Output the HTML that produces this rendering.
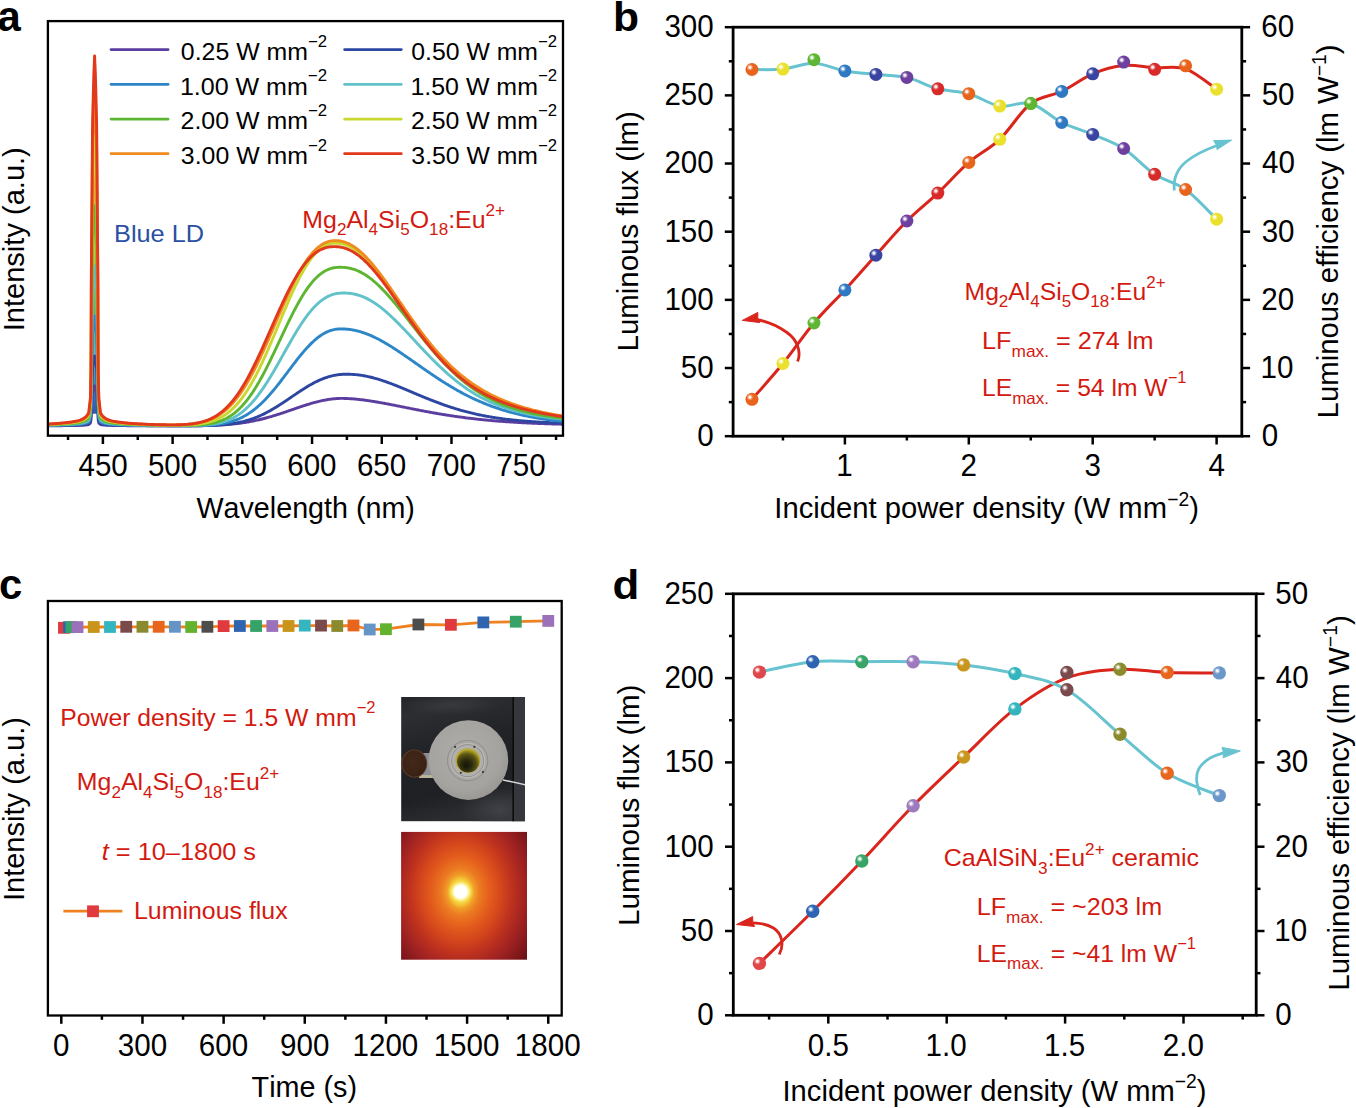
<!DOCTYPE html>
<html><head><meta charset="utf-8"><style>
html,body{margin:0;padding:0;background:#fff;}
svg{display:block;}
text{font-family:"Liberation Sans", sans-serif;font-kerning:none;}
</style></head><body>
<svg width="1356" height="1108" viewBox="0 0 1356 1108">
<rect width="1356" height="1108" fill="#fff"/>
<defs><linearGradient id="ldfill" gradientUnits="userSpaceOnUse" x1="0" y1="60" x2="0" y2="418"><stop offset="0" stop-color="#e84a1e"/><stop offset="0.3" stop-color="#eca030"/><stop offset="0.55" stop-color="#b8cc38"/><stop offset="0.7" stop-color="#64b83e"/><stop offset="0.82" stop-color="#58b8c8"/><stop offset="0.92" stop-color="#3080c8"/><stop offset="1" stop-color="#4048a8"/></linearGradient>
<radialGradient id="hl"><stop offset="0" stop-color="#fff" stop-opacity="1"/><stop offset="0.28" stop-color="#fff" stop-opacity="0.92"/><stop offset="0.6" stop-color="#fff" stop-opacity="0.4"/><stop offset="1" stop-color="#fff" stop-opacity="0"/></radialGradient>
<radialGradient id="glow" gradientUnits="userSpaceOnUse" cx="460.7" cy="891.7" r="90" fx="460.7" fy="891.7" gradientTransform="translate(460.7 891.7) scale(1 1.22) translate(-460.7 -891.7)">
<stop offset="0" stop-color="#ffffff"/><stop offset="0.065" stop-color="#ffffff"/><stop offset="0.085" stop-color="#f8ec90"/>
<stop offset="0.11" stop-color="#f4d23a"/><stop offset="0.15" stop-color="#f0a028"/><stop offset="0.21" stop-color="#ec7c22"/>
<stop offset="0.32" stop-color="#e45e1c"/><stop offset="0.45" stop-color="#d4461c"/><stop offset="0.57" stop-color="#be321e"/>
<stop offset="0.7" stop-color="#a42422"/><stop offset="0.85" stop-color="#82181c"/><stop offset="1" stop-color="#5e0e14"/></radialGradient>
<radialGradient id="core"><stop offset="0" stop-color="#fff"/><stop offset="0.45" stop-color="#fff"/><stop offset="0.6" stop-color="#fbf2a0"/><stop offset="0.75" stop-color="#f6dc48" stop-opacity="0.9"/><stop offset="1" stop-color="#f2b030" stop-opacity="0"/></radialGradient>
<linearGradient id="bgp" x1="0" y1="0" x2="0.25" y2="1"><stop offset="0" stop-color="#222428"/><stop offset="0.15" stop-color="#2c2e32"/><stop offset="0.45" stop-color="#212327"/><stop offset="0.8" stop-color="#1e2024"/><stop offset="1" stop-color="#2a2c30"/></linearGradient>
<radialGradient id="disc" cx="0.45" cy="0.42" r="0.65"><stop offset="0" stop-color="#afadaa"/><stop offset="0.7" stop-color="#a5a3a0"/><stop offset="1" stop-color="#959390"/></radialGradient>
<radialGradient id="lens" cx="0.45" cy="0.62" r="0.6" fx="0.4" fy="0.7"><stop offset="0" stop-color="#141408"/><stop offset="0.4" stop-color="#2c2c0e"/><stop offset="0.75" stop-color="#5a5414"/><stop offset="1" stop-color="#a49a26"/></radialGradient>
<radialGradient id="knob" cx="0.45" cy="0.45" r="0.6"><stop offset="0" stop-color="#45291a"/><stop offset="0.8" stop-color="#3a2216"/><stop offset="1" stop-color="#24160e"/></radialGradient>
<radialGradient id="brpatch" cx="0.5" cy="0.5" r="0.5"><stop offset="0" stop-color="#44464b" stop-opacity="0.8"/><stop offset="1" stop-color="#44464b" stop-opacity="0"/></radialGradient>
<clipPath id="clipp1"><rect x="401.1" y="697" width="123.9" height="124.4"/></clipPath></defs>
<text transform="translate(20.90,30.60)" fill="#000" ><tspan x="-23.51" y="0.00" font-size="41.8" style="font-weight:bold">a</tspan></text>
<text transform="translate(615.80,30.60) scale(1.0407,1)" fill="#000" ><tspan x="-2.70" y="0.00" font-size="41.0" style="font-weight:bold">b</tspan></text>
<text transform="translate(20.90,598.70)" fill="#000" ><tspan x="-22.02" y="0.00" font-size="41.8" style="font-weight:bold">c</tspan></text>
<text transform="translate(614.40,598.50) scale(1.0697,1)" fill="#000" ><tspan x="-1.68" y="0.00" font-size="41.0" style="font-weight:bold">d</tspan></text>
<clipPath id="clipa"><rect x="47.9" y="21.1" width="515.1" height="414.59999999999997"/></clipPath>
<g clip-path="url(#clipa)" fill="none" stroke-width="2.9" stroke-linejoin="round">
<path d="M88.00,413.94 L88.15,413.70 L88.30,413.45 L88.45,413.19 L88.60,412.92 L88.75,412.68 L88.90,411.37 L89.05,410.06 L89.20,408.74 L89.35,407.43 L89.50,406.12 L89.65,404.81 L89.80,403.50 L89.95,402.19 L90.10,400.87 L90.25,399.56 L90.40,398.25 L90.55,391.51 L90.70,384.77 L90.85,378.03 L91.00,371.29 L91.15,345.15 L91.30,280.22 L91.45,261.86 L91.60,243.50 L91.75,225.15 L91.90,206.79 L92.05,187.72 L92.20,168.29 L92.35,148.87 L92.50,129.44 L92.65,119.12 L92.80,113.35 L92.95,107.58 L93.10,101.81 L93.25,96.03 L93.40,90.26 L93.55,84.49 L93.70,78.72 L93.85,73.69 L94.00,70.15 L94.15,66.61 L94.30,63.08 L94.45,59.54 L94.60,56.00 L94.75,59.54 L94.90,63.08 L95.05,66.61 L95.20,70.15 L95.35,73.69 L95.50,78.72 L95.65,84.49 L95.80,90.26 L95.95,96.03 L96.10,101.81 L96.25,107.58 L96.40,113.35 L96.55,119.12 L96.70,129.44 L96.85,148.87 L97.00,168.29 L97.15,187.72 L97.30,206.79 L97.45,225.15 L97.60,243.50 L97.75,261.86 L97.90,280.22 L98.05,345.15 L98.20,371.29 L98.35,378.03 L98.50,384.77 L98.65,391.51 L98.80,398.25 L98.95,399.56 L99.10,400.87 L99.25,402.19 L99.40,403.50 L99.55,404.81 L99.70,406.12 L99.85,407.43 L100.00,408.74 L100.15,410.06 L100.30,411.37 L100.45,412.64 L100.60,412.92 L100.75,413.19 L100.90,413.45 Z" fill="url(#ldfill)" stroke="none"/>
<path d="M48.20,425.78 L49.20,425.78 L50.20,425.77 L51.20,425.77 L52.20,425.76 L53.20,425.75 L54.20,425.75 L55.20,425.74 L56.20,425.73 L57.20,425.72 L58.20,425.71 L59.20,425.71 L60.20,425.70 L61.20,425.69 L62.20,425.68 L63.20,425.67 L64.20,425.66 L65.20,425.65 L66.20,425.64 L67.20,425.62 L68.20,425.61 L69.20,425.60 L70.20,425.58 L71.20,425.57 L72.20,425.55 L73.20,425.53 L74.20,425.51 L75.20,425.49 L76.20,425.47 L77.20,425.45 L78.20,425.42 L79.20,425.39 L80.20,425.35 L80.35,425.35 L80.50,425.34 L80.65,425.33 L80.80,425.33 L80.95,425.32 L81.10,425.32 L81.25,425.31 L81.40,425.30 L81.55,425.30 L81.70,425.29 L81.85,425.28 L82.00,425.27 L82.15,425.27 L82.30,425.26 L82.45,425.25 L82.60,425.24 L82.75,425.23 L82.90,425.22 L83.05,425.22 L83.20,425.21 L83.35,425.20 L83.50,425.19 L83.65,425.18 L83.80,425.17 L83.95,425.16 L84.10,425.14 L84.25,425.13 L84.40,425.12 L84.55,425.11 L84.70,425.10 L84.85,425.08 L85.00,425.07 L85.15,425.06 L85.30,425.04 L85.45,425.03 L85.60,425.02 L85.75,425.00 L85.90,424.98 L86.05,424.97 L86.20,424.95 L86.35,424.93 L86.50,424.92 L86.65,424.90 L86.80,424.88 L86.95,424.86 L87.10,424.84 L87.25,424.82 L87.40,424.79 L87.55,424.77 L87.70,424.75 L87.85,424.72 L88.00,424.70 L88.15,424.67 L88.30,424.64 L88.45,424.62 L88.60,424.59 L88.75,424.56 L88.90,424.42 L89.05,424.28 L89.20,424.13 L89.35,423.99 L89.50,423.85 L89.65,423.71 L89.80,423.57 L89.95,423.43 L90.10,423.28 L90.25,423.14 L90.40,423.00 L90.55,422.27 L90.70,421.54 L90.85,420.81 L91.00,420.09 L91.15,417.26 L91.30,410.24 L91.45,408.26 L91.60,406.27 L91.75,404.29 L91.90,402.30 L92.05,400.24 L92.20,398.14 L92.35,396.04 L92.50,393.94 L92.65,392.82 L92.80,392.20 L92.95,391.58 L93.10,390.95 L93.25,390.33 L93.40,389.70 L93.55,389.08 L93.70,388.46 L93.85,387.91 L94.00,387.53 L94.15,387.15 L94.30,386.76 L94.45,386.38 L94.60,386.00 L94.75,386.38 L94.90,386.76 L95.05,387.15 L95.20,387.53 L95.35,387.91 L95.50,388.46 L95.65,389.08 L95.80,389.70 L95.95,390.33 L96.10,390.95 L96.25,391.58 L96.40,392.20 L96.55,392.82 L96.70,393.94 L96.85,396.04 L97.00,398.14 L97.15,400.24 L97.30,402.30 L97.45,404.29 L97.60,406.27 L97.75,408.26 L97.90,410.24 L98.05,417.26 L98.20,420.09 L98.35,420.81 L98.50,421.54 L98.65,422.27 L98.80,423.00 L98.95,423.14 L99.10,423.28 L99.25,423.43 L99.40,423.57 L99.55,423.71 L99.70,423.85 L99.85,423.99 L100.00,424.13 L100.15,424.28 L100.30,424.42 L100.45,424.56 L100.60,424.59 L100.75,424.62 L100.90,424.64 L101.05,424.67 L101.20,424.70 L101.35,424.72 L101.50,424.75 L101.65,424.77 L101.80,424.79 L101.95,424.82 L102.10,424.84 L102.25,424.86 L102.40,424.88 L102.55,424.90 L102.70,424.92 L102.85,424.93 L103.00,424.95 L103.15,424.97 L103.30,424.98 L103.45,425.00 L103.60,425.02 L103.75,425.03 L103.90,425.04 L104.05,425.06 L104.20,425.07 L104.35,425.08 L104.50,425.10 L104.65,425.11 L104.80,425.12 L104.95,425.13 L105.10,425.14 L105.25,425.16 L105.40,425.17 L105.55,425.18 L105.70,425.19 L105.85,425.20 L106.00,425.21 L106.15,425.22 L106.30,425.22 L106.45,425.23 L106.60,425.24 L106.75,425.25 L106.90,425.26 L107.05,425.27 L107.20,425.27 L107.35,425.28 L107.50,425.29 L107.65,425.30 L107.80,425.30 L107.95,425.31 L108.10,425.32 L108.25,425.32 L108.40,425.33 L108.55,425.33 L108.70,425.34 L108.85,425.35 L109.00,425.35 L109.15,425.36 L109.30,425.36 L109.45,425.37 L109.60,425.37 L109.75,425.38 L109.90,425.38 L110.05,425.39 L111.05,425.42 L112.05,425.45 L113.05,425.47 L114.05,425.50 L115.05,425.52 L116.05,425.53 L117.05,425.55 L118.05,425.57 L119.05,425.58 L120.05,425.60 L121.05,425.61 L122.05,425.62 L123.05,425.64 L124.05,425.65 L125.05,425.66 L126.05,425.67 L127.05,425.68 L128.05,425.69 L129.05,425.70 L130.05,425.71 L131.05,425.72 L132.05,425.72 L133.05,425.73 L134.05,425.74 L135.05,425.75 L136.05,425.75 L137.05,425.76 L138.05,425.77 L139.05,425.77 L140.05,425.78 L141.05,425.78 L142.05,425.79 L143.05,425.80 L144.05,425.80 L145.05,425.81 L146.05,425.81 L147.05,425.82 L148.05,425.82 L149.05,425.82 L150.05,425.83 L151.05,425.83 L152.05,425.84 L153.05,425.84 L154.05,425.84 L155.05,425.85 L156.05,425.85 L157.05,425.85 L158.05,425.86 L159.05,425.86 L160.05,425.86 L161.05,425.86 L162.05,425.86 L163.05,425.87 L164.05,425.87 L165.05,425.87 L166.05,425.87 L167.05,425.87 L168.05,425.87 L169.05,425.88 L170.05,425.88 L171.05,425.88 L172.05,425.88 L173.05,425.88 L174.05,425.88 L175.05,425.88 L176.05,425.87 L177.05,425.87 L178.05,425.87 L179.05,425.87 L180.05,425.87 L181.05,425.86 L182.05,425.86 L183.05,425.86 L184.05,425.85 L185.05,425.85 L186.05,425.85 L187.05,425.84 L188.05,425.83 L189.05,425.83 L190.05,425.82 L191.05,425.81 L192.05,425.80 L193.05,425.79 L194.05,425.78 L195.05,425.77 L196.05,425.76 L197.05,425.75 L198.05,425.73 L199.05,425.72 L200.05,425.70 L201.05,425.68 L202.05,425.66 L203.05,425.64 L204.05,425.62 L205.05,425.60 L206.05,425.57 L207.05,425.55 L208.05,425.52 L209.05,425.49 L210.05,425.46 L211.05,425.43 L212.05,425.39 L213.05,425.35 L214.05,425.31 L215.05,425.27 L216.05,425.23 L217.05,425.18 L218.05,425.13 L219.05,425.08 L220.05,425.02 L221.05,424.97 L222.05,424.91 L223.05,424.84 L224.05,424.78 L225.05,424.71 L226.05,424.63 L227.05,424.56 L228.05,424.48 L229.05,424.39 L230.05,424.31 L231.05,424.21 L232.05,424.12 L233.05,424.02 L234.05,423.92 L235.05,423.81 L236.05,423.70 L237.05,423.58 L238.05,423.46 L239.05,423.33 L240.05,423.20 L241.05,423.07 L242.05,422.93 L243.05,422.78 L244.05,422.63 L245.05,422.48 L246.05,422.32 L247.05,422.15 L248.05,421.98 L249.05,421.80 L250.05,421.62 L251.05,421.44 L252.05,421.24 L253.05,421.05 L254.05,420.84 L255.05,420.64 L256.05,420.42 L257.05,420.20 L258.05,419.98 L259.05,419.75 L260.05,419.51 L261.05,419.27 L262.05,419.02 L263.05,418.77 L264.05,418.52 L265.05,418.25 L266.05,417.99 L267.05,417.72 L268.05,417.44 L269.05,417.16 L270.05,416.87 L271.05,416.58 L272.05,416.28 L273.05,415.98 L274.05,415.68 L275.05,415.37 L276.05,415.06 L277.05,414.74 L278.05,414.43 L279.05,414.10 L280.05,413.78 L281.05,413.45 L282.05,413.12 L283.05,412.78 L284.05,412.45 L285.05,412.11 L286.05,411.77 L287.05,411.43 L288.05,411.09 L289.05,410.74 L290.05,410.40 L291.05,410.05 L292.05,409.71 L293.05,409.36 L294.05,409.02 L295.05,408.67 L296.05,408.33 L297.05,407.98 L298.05,407.64 L299.05,407.30 L300.05,406.97 L301.05,406.63 L302.05,406.30 L303.05,405.97 L304.05,405.64 L305.05,405.32 L306.05,405.00 L307.05,404.69 L308.05,404.38 L309.05,404.07 L310.05,403.77 L311.05,403.47 L312.05,403.18 L313.05,402.90 L314.05,402.62 L315.05,402.35 L316.05,402.09 L317.05,401.83 L318.05,401.58 L319.05,401.34 L320.05,401.10 L321.05,400.88 L322.05,400.66 L323.05,400.45 L324.05,400.25 L325.05,400.06 L326.05,399.88 L327.05,399.70 L328.05,399.54 L329.05,399.39 L330.05,399.24 L331.05,399.11 L332.05,398.99 L333.05,398.88 L334.05,398.78 L335.05,398.69 L336.05,398.61 L337.05,398.54 L338.05,398.49 L339.05,398.45 L340.05,398.42 L341.05,398.40 L342.05,398.40 L343.05,398.41 L344.05,398.43 L345.05,398.46 L346.05,398.49 L347.05,398.53 L348.05,398.58 L349.05,398.63 L350.05,398.69 L351.05,398.75 L352.05,398.82 L353.05,398.90 L354.05,398.98 L355.05,399.06 L356.05,399.16 L357.05,399.25 L358.05,399.35 L359.05,399.46 L360.05,399.57 L361.05,399.69 L362.05,399.81 L363.05,399.93 L364.05,400.06 L365.05,400.19 L366.05,400.32 L367.05,400.46 L368.05,400.61 L369.05,400.75 L370.05,400.90 L371.05,401.06 L372.05,401.21 L373.05,401.37 L374.05,401.53 L375.05,401.70 L376.05,401.86 L377.05,402.03 L378.05,402.21 L379.05,402.38 L380.05,402.56 L381.05,402.74 L382.05,402.92 L383.05,403.10 L384.05,403.28 L385.05,403.47 L386.05,403.66 L387.05,403.85 L388.05,404.04 L389.05,404.23 L390.05,404.42 L391.05,404.62 L392.05,404.81 L393.05,405.01 L394.05,405.20 L395.05,405.40 L396.05,405.60 L397.05,405.80 L398.05,406.00 L399.05,406.20 L400.05,406.40 L401.05,406.60 L402.05,406.80 L403.05,407.00 L404.05,407.20 L405.05,407.40 L406.05,407.60 L407.05,407.80 L408.05,408.00 L409.05,408.20 L410.05,408.40 L411.05,408.60 L412.05,408.80 L413.05,409.00 L414.05,409.19 L415.05,409.39 L416.05,409.59 L417.05,409.78 L418.05,409.98 L419.05,410.17 L420.05,410.36 L421.05,410.55 L422.05,410.75 L423.05,410.94 L424.05,411.12 L425.05,411.31 L426.05,411.50 L427.05,411.69 L428.05,411.87 L429.05,412.05 L430.05,412.24 L431.05,412.42 L432.05,412.60 L433.05,412.77 L434.05,412.95 L435.05,413.13 L436.05,413.30 L437.05,413.47 L438.05,413.65 L439.05,413.82 L440.05,413.98 L441.05,414.15 L442.05,414.32 L443.05,414.48 L444.05,414.64 L445.05,414.80 L446.05,414.96 L447.05,415.12 L448.05,415.28 L449.05,415.43 L450.05,415.59 L451.05,415.74 L452.05,415.89 L453.05,416.04 L454.05,416.18 L455.05,416.33 L456.05,416.47 L457.05,416.61 L458.05,416.75 L459.05,416.89 L460.05,417.03 L461.05,417.17 L462.05,417.30 L463.05,417.43 L464.05,417.56 L465.05,417.69 L466.05,417.82 L467.05,417.94 L468.05,418.07 L469.05,418.19 L470.05,418.31 L471.05,418.43 L472.05,418.55 L473.05,418.67 L474.05,418.78 L475.05,418.89 L476.05,419.01 L477.05,419.12 L478.05,419.23 L479.05,419.33 L480.05,419.44 L481.05,419.54 L482.05,419.65 L483.05,419.75 L484.05,419.85 L485.05,419.95 L486.05,420.04 L487.05,420.14 L488.05,420.23 L489.05,420.33 L490.05,420.42 L491.05,420.51 L492.05,420.60 L493.05,420.68 L494.05,420.77 L495.05,420.85 L496.05,420.94 L497.05,421.02 L498.05,421.10 L499.05,421.18 L500.05,421.26 L501.05,421.34 L502.05,421.41 L503.05,421.49 L504.05,421.56 L505.05,421.63 L506.05,421.70 L507.05,421.77 L508.05,421.84 L509.05,421.91 L510.05,421.98 L511.05,422.04 L512.05,422.11 L513.05,422.17 L514.05,422.23 L515.05,422.29 L516.05,422.35 L517.05,422.41 L518.05,422.47 L519.05,422.53 L520.05,422.58 L521.05,422.64 L522.05,422.69 L523.05,422.75 L524.05,422.80 L525.05,422.85 L526.05,422.90 L527.05,422.95 L528.05,423.00 L529.05,423.05 L530.05,423.10 L531.05,423.14 L532.05,423.19 L533.05,423.23 L534.05,423.28 L535.05,423.32 L536.05,423.36 L537.05,423.40 L538.05,423.44 L539.05,423.48 L540.05,423.52 L541.05,423.56 L542.05,423.60 L543.05,423.64 L544.05,423.67 L545.05,423.71 L546.05,423.74 L547.05,423.78 L548.05,423.81 L549.05,423.85 L550.05,423.88 L551.05,423.91 L552.05,423.94 L553.05,423.97 L554.05,424.00 L555.05,424.03 L556.05,424.06 L557.05,424.09 L558.05,424.12 L559.05,424.15 L560.05,424.17 L561.05,424.20 L562.05,424.23 L562.70,424.24" stroke="#5b3e9f"/>
<path d="M48.20,425.62 L49.20,425.61 L50.20,425.60 L51.20,425.59 L52.20,425.58 L53.20,425.57 L54.20,425.56 L55.20,425.54 L56.20,425.53 L57.20,425.52 L58.20,425.50 L59.20,425.49 L60.20,425.47 L61.20,425.45 L62.20,425.44 L63.20,425.42 L64.20,425.40 L65.20,425.38 L66.20,425.36 L67.20,425.34 L68.20,425.32 L69.20,425.29 L70.20,425.27 L71.20,425.24 L72.20,425.21 L73.20,425.18 L74.20,425.15 L75.20,425.12 L76.20,425.08 L77.20,425.03 L78.20,424.98 L79.20,424.93 L80.20,424.87 L80.35,424.86 L80.50,424.85 L80.65,424.84 L80.80,424.82 L80.95,424.81 L81.10,424.80 L81.25,424.79 L81.40,424.78 L81.55,424.77 L81.70,424.75 L81.85,424.74 L82.00,424.73 L82.15,424.71 L82.30,424.70 L82.45,424.69 L82.60,424.67 L82.75,424.66 L82.90,424.64 L83.05,424.63 L83.20,424.61 L83.35,424.59 L83.50,424.58 L83.65,424.56 L83.80,424.54 L83.95,424.52 L84.10,424.50 L84.25,424.48 L84.40,424.46 L84.55,424.44 L84.70,424.42 L84.85,424.40 L85.00,424.38 L85.15,424.35 L85.30,424.33 L85.45,424.30 L85.60,424.28 L85.75,424.25 L85.90,424.22 L86.05,424.19 L86.20,424.16 L86.35,424.13 L86.50,424.10 L86.65,424.07 L86.80,424.04 L86.95,424.00 L87.10,423.96 L87.25,423.93 L87.40,423.89 L87.55,423.85 L87.70,423.81 L87.85,423.76 L88.00,423.72 L88.15,423.67 L88.30,423.63 L88.45,423.58 L88.60,423.53 L88.75,423.48 L88.90,423.23 L89.05,422.98 L89.20,422.74 L89.35,422.49 L89.50,422.24 L89.65,421.99 L89.80,421.74 L89.95,421.49 L90.10,421.25 L90.25,421.00 L90.40,420.75 L90.55,419.47 L90.70,418.20 L90.85,416.92 L91.00,415.65 L91.15,410.70 L91.30,398.42 L91.45,394.95 L91.60,391.47 L91.75,388.00 L91.90,384.53 L92.05,380.92 L92.20,377.24 L92.35,373.57 L92.50,369.89 L92.65,367.94 L92.80,366.85 L92.95,365.76 L93.10,364.67 L93.25,363.57 L93.40,362.48 L93.55,361.39 L93.70,360.30 L93.85,359.35 L94.00,358.68 L94.15,358.01 L94.30,357.34 L94.45,356.67 L94.60,356.00 L94.75,356.67 L94.90,357.34 L95.05,358.01 L95.20,358.68 L95.35,359.35 L95.50,360.30 L95.65,361.39 L95.80,362.48 L95.95,363.57 L96.10,364.67 L96.25,365.76 L96.40,366.85 L96.55,367.94 L96.70,369.89 L96.85,373.57 L97.00,377.24 L97.15,380.92 L97.30,384.53 L97.45,388.00 L97.60,391.47 L97.75,394.95 L97.90,398.42 L98.05,410.70 L98.20,415.65 L98.35,416.92 L98.50,418.20 L98.65,419.47 L98.80,420.75 L98.95,421.00 L99.10,421.25 L99.25,421.49 L99.40,421.74 L99.55,421.99 L99.70,422.24 L99.85,422.49 L100.00,422.74 L100.15,422.98 L100.30,423.23 L100.45,423.47 L100.60,423.53 L100.75,423.58 L100.90,423.63 L101.05,423.67 L101.20,423.72 L101.35,423.76 L101.50,423.81 L101.65,423.85 L101.80,423.89 L101.95,423.93 L102.10,423.96 L102.25,424.00 L102.40,424.04 L102.55,424.07 L102.70,424.10 L102.85,424.13 L103.00,424.16 L103.15,424.19 L103.30,424.22 L103.45,424.25 L103.60,424.28 L103.75,424.30 L103.90,424.33 L104.05,424.35 L104.20,424.38 L104.35,424.40 L104.50,424.42 L104.65,424.44 L104.80,424.46 L104.95,424.48 L105.10,424.50 L105.25,424.52 L105.40,424.54 L105.55,424.56 L105.70,424.58 L105.85,424.59 L106.00,424.61 L106.15,424.63 L106.30,424.64 L106.45,424.66 L106.60,424.67 L106.75,424.69 L106.90,424.70 L107.05,424.71 L107.20,424.73 L107.35,424.74 L107.50,424.75 L107.65,424.77 L107.80,424.78 L107.95,424.79 L108.10,424.80 L108.25,424.81 L108.40,424.82 L108.55,424.84 L108.70,424.85 L108.85,424.86 L109.00,424.87 L109.15,424.88 L109.30,424.89 L109.45,424.90 L109.60,424.90 L109.75,424.91 L109.90,424.92 L110.05,424.93 L111.05,424.99 L112.05,425.03 L113.05,425.08 L114.05,425.12 L115.05,425.15 L116.05,425.19 L117.05,425.22 L118.05,425.24 L119.05,425.27 L120.05,425.30 L121.05,425.32 L122.05,425.34 L123.05,425.36 L124.05,425.38 L125.05,425.40 L126.05,425.42 L127.05,425.44 L128.05,425.46 L129.05,425.47 L130.05,425.49 L131.05,425.50 L132.05,425.52 L133.05,425.53 L134.05,425.54 L135.05,425.56 L136.05,425.57 L137.05,425.58 L138.05,425.59 L139.05,425.60 L140.05,425.61 L141.05,425.62 L142.05,425.63 L143.05,425.64 L144.05,425.65 L145.05,425.66 L146.05,425.67 L147.05,425.68 L148.05,425.69 L149.05,425.69 L150.05,425.70 L151.05,425.71 L152.05,425.72 L153.05,425.72 L154.05,425.73 L155.05,425.74 L156.05,425.74 L157.05,425.75 L158.05,425.75 L159.05,425.76 L160.05,425.77 L161.05,425.77 L162.05,425.78 L163.05,425.78 L164.05,425.78 L165.05,425.79 L166.05,425.79 L167.05,425.80 L168.05,425.80 L169.05,425.80 L170.05,425.81 L171.05,425.81 L172.05,425.81 L173.05,425.82 L174.05,425.82 L175.05,425.82 L176.05,425.82 L177.05,425.83 L178.05,425.83 L179.05,425.83 L180.05,425.83 L181.05,425.83 L182.05,425.83 L183.05,425.83 L184.05,425.83 L185.05,425.83 L186.05,425.83 L187.05,425.83 L188.05,425.82 L189.05,425.82 L190.05,425.82 L191.05,425.81 L192.05,425.81 L193.05,425.80 L194.05,425.79 L195.05,425.79 L196.05,425.78 L197.05,425.77 L198.05,425.76 L199.05,425.74 L200.05,425.73 L201.05,425.72 L202.05,425.70 L203.05,425.68 L204.05,425.66 L205.05,425.64 L206.05,425.61 L207.05,425.59 L208.05,425.56 L209.05,425.53 L210.05,425.50 L211.05,425.46 L212.05,425.42 L213.05,425.38 L214.05,425.33 L215.05,425.28 L216.05,425.23 L217.05,425.17 L218.05,425.11 L219.05,425.05 L220.05,424.98 L221.05,424.90 L222.05,424.82 L223.05,424.74 L224.05,424.65 L225.05,424.55 L226.05,424.45 L227.05,424.34 L228.05,424.23 L229.05,424.11 L230.05,423.98 L231.05,423.84 L232.05,423.70 L233.05,423.55 L234.05,423.39 L235.05,423.22 L236.05,423.05 L237.05,422.86 L238.05,422.67 L239.05,422.47 L240.05,422.25 L241.05,422.03 L242.05,421.80 L243.05,421.56 L244.05,421.30 L245.05,421.04 L246.05,420.77 L247.05,420.48 L248.05,420.18 L249.05,419.88 L250.05,419.56 L251.05,419.23 L252.05,418.88 L253.05,418.53 L254.05,418.16 L255.05,417.78 L256.05,417.39 L257.05,416.99 L258.05,416.58 L259.05,416.15 L260.05,415.71 L261.05,415.26 L262.05,414.80 L263.05,414.32 L264.05,413.84 L265.05,413.34 L266.05,412.83 L267.05,412.31 L268.05,411.78 L269.05,411.23 L270.05,410.68 L271.05,410.12 L272.05,409.54 L273.05,408.96 L274.05,408.37 L275.05,407.77 L276.05,407.16 L277.05,406.54 L278.05,405.91 L279.05,405.28 L280.05,404.64 L281.05,404.00 L282.05,403.34 L283.05,402.69 L284.05,402.02 L285.05,401.36 L286.05,400.69 L287.05,400.01 L288.05,399.34 L289.05,398.66 L290.05,397.98 L291.05,397.30 L292.05,396.62 L293.05,395.93 L294.05,395.26 L295.05,394.58 L296.05,393.90 L297.05,393.23 L298.05,392.56 L299.05,391.90 L300.05,391.24 L301.05,390.58 L302.05,389.93 L303.05,389.29 L304.05,388.66 L305.05,388.03 L306.05,387.41 L307.05,386.80 L308.05,386.20 L309.05,385.61 L310.05,385.04 L311.05,384.47 L312.05,383.91 L313.05,383.37 L314.05,382.84 L315.05,382.32 L316.05,381.82 L317.05,381.33 L318.05,380.85 L319.05,380.39 L320.05,379.94 L321.05,379.51 L322.05,379.10 L323.05,378.70 L324.05,378.32 L325.05,377.95 L326.05,377.61 L327.05,377.27 L328.05,376.96 L329.05,376.66 L330.05,376.38 L331.05,376.12 L332.05,375.87 L333.05,375.65 L334.05,375.44 L335.05,375.24 L336.05,375.07 L337.05,374.91 L338.05,374.77 L339.05,374.65 L340.05,374.54 L341.05,374.45 L342.05,374.38 L343.05,374.32 L344.05,374.28 L345.05,374.25 L346.05,374.24 L347.05,374.24 L348.05,374.24 L349.05,374.26 L350.05,374.29 L351.05,374.33 L352.05,374.38 L353.05,374.44 L354.05,374.51 L355.05,374.59 L356.05,374.68 L357.05,374.78 L358.05,374.89 L359.05,375.01 L360.05,375.15 L361.05,375.29 L362.05,375.44 L363.05,375.61 L364.05,375.78 L365.05,375.97 L366.05,376.16 L367.05,376.36 L368.05,376.57 L369.05,376.80 L370.05,377.03 L371.05,377.27 L372.05,377.52 L373.05,377.77 L374.05,378.04 L375.05,378.31 L376.05,378.59 L377.05,378.88 L378.05,379.18 L379.05,379.48 L380.05,379.80 L381.05,380.12 L382.05,380.44 L383.05,380.77 L384.05,381.11 L385.05,381.45 L386.05,381.80 L387.05,382.16 L388.05,382.52 L389.05,382.89 L390.05,383.26 L391.05,383.63 L392.05,384.01 L393.05,384.40 L394.05,384.79 L395.05,385.18 L396.05,385.57 L397.05,385.97 L398.05,386.37 L399.05,386.78 L400.05,387.19 L401.05,387.60 L402.05,388.01 L403.05,388.42 L404.05,388.84 L405.05,389.26 L406.05,389.67 L407.05,390.09 L408.05,390.51 L409.05,390.94 L410.05,391.36 L411.05,391.78 L412.05,392.20 L413.05,392.63 L414.05,393.05 L415.05,393.47 L416.05,393.89 L417.05,394.31 L418.05,394.73 L419.05,395.15 L420.05,395.57 L421.05,395.99 L422.05,396.40 L423.05,396.81 L424.05,397.22 L425.05,397.63 L426.05,398.04 L427.05,398.45 L428.05,398.85 L429.05,399.25 L430.05,399.65 L431.05,400.05 L432.05,400.44 L433.05,400.83 L434.05,401.22 L435.05,401.60 L436.05,401.98 L437.05,402.36 L438.05,402.73 L439.05,403.10 L440.05,403.47 L441.05,403.84 L442.05,404.20 L443.05,404.55 L444.05,404.91 L445.05,405.26 L446.05,405.60 L447.05,405.95 L448.05,406.28 L449.05,406.62 L450.05,406.95 L451.05,407.27 L452.05,407.60 L453.05,407.92 L454.05,408.23 L455.05,408.54 L456.05,408.85 L457.05,409.15 L458.05,409.45 L459.05,409.74 L460.05,410.03 L461.05,410.32 L462.05,410.60 L463.05,410.88 L464.05,411.15 L465.05,411.42 L466.05,411.68 L467.05,411.94 L468.05,412.20 L469.05,412.45 L470.05,412.70 L471.05,412.95 L472.05,413.19 L473.05,413.42 L474.05,413.66 L475.05,413.89 L476.05,414.11 L477.05,414.33 L478.05,414.55 L479.05,414.76 L480.05,414.97 L481.05,415.18 L482.05,415.38 L483.05,415.58 L484.05,415.77 L485.05,415.96 L486.05,416.15 L487.05,416.33 L488.05,416.52 L489.05,416.69 L490.05,416.87 L491.05,417.04 L492.05,417.20 L493.05,417.37 L494.05,417.53 L495.05,417.68 L496.05,417.84 L497.05,417.99 L498.05,418.13 L499.05,418.28 L500.05,418.42 L501.05,418.56 L502.05,418.69 L503.05,418.83 L504.05,418.96 L505.05,419.08 L506.05,419.21 L507.05,419.33 L508.05,419.45 L509.05,419.56 L510.05,419.68 L511.05,419.79 L512.05,419.90 L513.05,420.00 L514.05,420.11 L515.05,420.21 L516.05,420.31 L517.05,420.41 L518.05,420.50 L519.05,420.59 L520.05,420.68 L521.05,420.77 L522.05,420.86 L523.05,420.94 L524.05,421.02 L525.05,421.10 L526.05,421.18 L527.05,421.26 L528.05,421.33 L529.05,421.41 L530.05,421.48 L531.05,421.55 L532.05,421.61 L533.05,421.68 L534.05,421.75 L535.05,421.81 L536.05,421.87 L537.05,421.93 L538.05,421.99 L539.05,422.04 L540.05,422.10 L541.05,422.15 L542.05,422.21 L543.05,422.26 L544.05,422.31 L545.05,422.36 L546.05,422.41 L547.05,422.45 L548.05,422.50 L549.05,422.54 L550.05,422.58 L551.05,422.63 L552.05,422.67 L553.05,422.71 L554.05,422.75 L555.05,422.78 L556.05,422.82 L557.05,422.86 L558.05,422.89 L559.05,422.93 L560.05,422.96 L561.05,422.99 L562.05,423.02 L562.70,423.04" stroke="#2d46a1"/>
<path d="M48.20,425.41 L49.20,425.39 L50.20,425.38 L51.20,425.36 L52.20,425.34 L53.20,425.32 L54.20,425.30 L55.20,425.28 L56.20,425.26 L57.20,425.24 L58.20,425.22 L59.20,425.19 L60.20,425.17 L61.20,425.14 L62.20,425.12 L63.20,425.09 L64.20,425.06 L65.20,425.03 L66.20,425.00 L67.20,424.96 L68.20,424.93 L69.20,424.89 L70.20,424.85 L71.20,424.81 L72.20,424.77 L73.20,424.72 L74.20,424.67 L75.20,424.61 L76.20,424.55 L77.20,424.48 L78.20,424.40 L79.20,424.32 L80.20,424.22 L80.35,424.20 L80.50,424.19 L80.65,424.17 L80.80,424.15 L80.95,424.14 L81.10,424.12 L81.25,424.10 L81.40,424.08 L81.55,424.06 L81.70,424.04 L81.85,424.02 L82.00,424.00 L82.15,423.98 L82.30,423.96 L82.45,423.94 L82.60,423.91 L82.75,423.89 L82.90,423.87 L83.05,423.84 L83.20,423.82 L83.35,423.79 L83.50,423.76 L83.65,423.74 L83.80,423.71 L83.95,423.68 L84.10,423.65 L84.25,423.62 L84.40,423.59 L84.55,423.55 L84.70,423.52 L84.85,423.48 L85.00,423.45 L85.15,423.41 L85.30,423.37 L85.45,423.33 L85.60,423.29 L85.75,423.25 L85.90,423.21 L86.05,423.16 L86.20,423.11 L86.35,423.07 L86.50,423.02 L86.65,422.97 L86.80,422.91 L86.95,422.86 L87.10,422.80 L87.25,422.74 L87.40,422.68 L87.55,422.62 L87.70,422.55 L87.85,422.49 L88.00,422.42 L88.15,422.34 L88.30,422.27 L88.45,422.19 L88.60,422.11 L88.75,422.04 L88.90,421.65 L89.05,421.26 L89.20,420.87 L89.35,420.48 L89.50,420.09 L89.65,419.70 L89.80,419.31 L89.95,418.92 L90.10,418.53 L90.25,418.14 L90.40,417.75 L90.55,415.75 L90.70,413.74 L90.85,411.74 L91.00,409.74 L91.15,401.96 L91.30,382.66 L91.45,377.20 L91.60,371.74 L91.75,366.29 L91.90,360.83 L92.05,355.16 L92.20,349.38 L92.35,343.61 L92.50,337.83 L92.65,334.77 L92.80,333.05 L92.95,331.33 L93.10,329.62 L93.25,327.90 L93.40,326.19 L93.55,324.47 L93.70,322.75 L93.85,321.26 L94.00,320.21 L94.15,319.16 L94.30,318.10 L94.45,317.05 L94.60,316.00 L94.75,317.05 L94.90,318.10 L95.05,319.16 L95.20,320.21 L95.35,321.26 L95.50,322.75 L95.65,324.47 L95.80,326.19 L95.95,327.90 L96.10,329.62 L96.25,331.33 L96.40,333.05 L96.55,334.77 L96.70,337.83 L96.85,343.61 L97.00,349.38 L97.15,355.16 L97.30,360.83 L97.45,366.29 L97.60,371.74 L97.75,377.20 L97.90,382.66 L98.05,401.96 L98.20,409.74 L98.35,411.74 L98.50,413.74 L98.65,415.75 L98.80,417.75 L98.95,418.14 L99.10,418.53 L99.25,418.92 L99.40,419.31 L99.55,419.70 L99.70,420.09 L99.85,420.48 L100.00,420.87 L100.15,421.26 L100.30,421.65 L100.45,422.03 L100.60,422.11 L100.75,422.19 L100.90,422.27 L101.05,422.34 L101.20,422.42 L101.35,422.49 L101.50,422.55 L101.65,422.62 L101.80,422.68 L101.95,422.74 L102.10,422.80 L102.25,422.86 L102.40,422.91 L102.55,422.97 L102.70,423.02 L102.85,423.07 L103.00,423.11 L103.15,423.16 L103.30,423.21 L103.45,423.25 L103.60,423.29 L103.75,423.33 L103.90,423.37 L104.05,423.41 L104.20,423.45 L104.35,423.48 L104.50,423.52 L104.65,423.55 L104.80,423.59 L104.95,423.62 L105.10,423.65 L105.25,423.68 L105.40,423.71 L105.55,423.74 L105.70,423.76 L105.85,423.79 L106.00,423.82 L106.15,423.84 L106.30,423.87 L106.45,423.89 L106.60,423.91 L106.75,423.94 L106.90,423.96 L107.05,423.98 L107.20,424.00 L107.35,424.02 L107.50,424.04 L107.65,424.06 L107.80,424.08 L107.95,424.10 L108.10,424.12 L108.25,424.14 L108.40,424.15 L108.55,424.17 L108.70,424.19 L108.85,424.20 L109.00,424.22 L109.15,424.23 L109.30,424.25 L109.45,424.26 L109.60,424.28 L109.75,424.29 L109.90,424.31 L110.05,424.32 L111.05,424.41 L112.05,424.48 L113.05,424.55 L114.05,424.61 L115.05,424.67 L116.05,424.72 L117.05,424.77 L118.05,424.81 L119.05,424.85 L120.05,424.89 L121.05,424.93 L122.05,424.97 L123.05,425.00 L124.05,425.03 L125.05,425.06 L126.05,425.09 L127.05,425.12 L128.05,425.14 L129.05,425.17 L130.05,425.19 L131.05,425.22 L132.05,425.24 L133.05,425.26 L134.05,425.28 L135.05,425.30 L136.05,425.32 L137.05,425.34 L138.05,425.36 L139.05,425.38 L140.05,425.39 L141.05,425.41 L142.05,425.42 L143.05,425.44 L144.05,425.45 L145.05,425.47 L146.05,425.48 L147.05,425.50 L148.05,425.51 L149.05,425.52 L150.05,425.53 L151.05,425.54 L152.05,425.55 L153.05,425.57 L154.05,425.58 L155.05,425.59 L156.05,425.60 L157.05,425.60 L158.05,425.61 L159.05,425.62 L160.05,425.63 L161.05,425.64 L162.05,425.65 L163.05,425.65 L164.05,425.66 L165.05,425.67 L166.05,425.67 L167.05,425.68 L168.05,425.69 L169.05,425.69 L170.05,425.70 L171.05,425.70 L172.05,425.71 L173.05,425.71 L174.05,425.71 L175.05,425.72 L176.05,425.72 L177.05,425.72 L178.05,425.73 L179.05,425.73 L180.05,425.73 L181.05,425.73 L182.05,425.73 L183.05,425.73 L184.05,425.73 L185.05,425.72 L186.05,425.72 L187.05,425.71 L188.05,425.71 L189.05,425.70 L190.05,425.69 L191.05,425.69 L192.05,425.67 L193.05,425.66 L194.05,425.65 L195.05,425.63 L196.05,425.61 L197.05,425.59 L198.05,425.57 L199.05,425.55 L200.05,425.52 L201.05,425.49 L202.05,425.45 L203.05,425.42 L204.05,425.38 L205.05,425.33 L206.05,425.28 L207.05,425.23 L208.05,425.17 L209.05,425.11 L210.05,425.04 L211.05,424.96 L212.05,424.88 L213.05,424.80 L214.05,424.70 L215.05,424.60 L216.05,424.49 L217.05,424.37 L218.05,424.25 L219.05,424.11 L220.05,423.97 L221.05,423.81 L222.05,423.65 L223.05,423.47 L224.05,423.29 L225.05,423.09 L226.05,422.87 L227.05,422.65 L228.05,422.41 L229.05,422.16 L230.05,421.89 L231.05,421.61 L232.05,421.31 L233.05,420.99 L234.05,420.66 L235.05,420.31 L236.05,419.95 L237.05,419.56 L238.05,419.15 L239.05,418.73 L240.05,418.28 L241.05,417.82 L242.05,417.33 L243.05,416.83 L244.05,416.30 L245.05,415.75 L246.05,415.17 L247.05,414.57 L248.05,413.95 L249.05,413.31 L250.05,412.64 L251.05,411.95 L252.05,411.24 L253.05,410.50 L254.05,409.73 L255.05,408.94 L256.05,408.13 L257.05,407.29 L258.05,406.43 L259.05,405.54 L260.05,404.63 L261.05,403.70 L262.05,402.74 L263.05,401.76 L264.05,400.75 L265.05,399.73 L266.05,398.68 L267.05,397.61 L268.05,396.52 L269.05,395.40 L270.05,394.27 L271.05,393.12 L272.05,391.95 L273.05,390.76 L274.05,389.56 L275.05,388.34 L276.05,387.10 L277.05,385.85 L278.05,384.59 L279.05,383.32 L280.05,382.03 L281.05,380.74 L282.05,379.44 L283.05,378.13 L284.05,376.81 L285.05,375.49 L286.05,374.16 L287.05,372.83 L288.05,371.50 L289.05,370.18 L290.05,368.85 L291.05,367.52 L292.05,366.20 L293.05,364.89 L294.05,363.58 L295.05,362.28 L296.05,360.99 L297.05,359.71 L298.05,358.44 L299.05,357.19 L300.05,355.95 L301.05,354.72 L302.05,353.52 L303.05,352.33 L304.05,351.16 L305.05,350.01 L306.05,348.89 L307.05,347.78 L308.05,346.70 L309.05,345.65 L310.05,344.62 L311.05,343.62 L312.05,342.65 L313.05,341.71 L314.05,340.80 L315.05,339.91 L316.05,339.06 L317.05,338.24 L318.05,337.46 L319.05,336.70 L320.05,335.98 L321.05,335.30 L322.05,334.65 L323.05,334.03 L324.05,333.45 L325.05,332.90 L326.05,332.39 L327.05,331.92 L328.05,331.48 L329.05,331.07 L330.05,330.71 L331.05,330.38 L332.05,330.08 L333.05,329.82 L334.05,329.59 L335.05,329.40 L336.05,329.24 L337.05,329.11 L338.05,329.02 L339.05,328.96 L340.05,328.93 L341.05,328.92 L342.05,328.93 L343.05,328.95 L344.05,328.99 L345.05,329.04 L346.05,329.11 L347.05,329.19 L348.05,329.29 L349.05,329.41 L350.05,329.54 L351.05,329.68 L352.05,329.84 L353.05,330.02 L354.05,330.21 L355.05,330.42 L356.05,330.64 L357.05,330.88 L358.05,331.13 L359.05,331.40 L360.05,331.68 L361.05,331.98 L362.05,332.29 L363.05,332.62 L364.05,332.96 L365.05,333.31 L366.05,333.67 L367.05,334.05 L368.05,334.45 L369.05,334.85 L370.05,335.27 L371.05,335.70 L372.05,336.14 L373.05,336.60 L374.05,337.07 L375.05,337.54 L376.05,338.03 L377.05,338.53 L378.05,339.04 L379.05,339.56 L380.05,340.09 L381.05,340.63 L382.05,341.18 L383.05,341.74 L384.05,342.31 L385.05,342.89 L386.05,343.47 L387.05,344.06 L388.05,344.66 L389.05,345.27 L390.05,345.89 L391.05,346.51 L392.05,347.14 L393.05,347.77 L394.05,348.41 L395.05,349.06 L396.05,349.71 L397.05,350.36 L398.05,351.03 L399.05,351.69 L400.05,352.36 L401.05,353.04 L402.05,353.71 L403.05,354.39 L404.05,355.08 L405.05,355.77 L406.05,356.46 L407.05,357.15 L408.05,357.84 L409.05,358.54 L410.05,359.24 L411.05,359.93 L412.05,360.64 L413.05,361.34 L414.05,362.04 L415.05,362.74 L416.05,363.44 L417.05,364.14 L418.05,364.85 L419.05,365.55 L420.05,366.25 L421.05,366.95 L422.05,367.65 L423.05,368.34 L424.05,369.04 L425.05,369.73 L426.05,370.43 L427.05,371.12 L428.05,371.80 L429.05,372.49 L430.05,373.17 L431.05,373.85 L432.05,374.53 L433.05,375.20 L434.05,375.87 L435.05,376.54 L436.05,377.21 L437.05,377.87 L438.05,378.52 L439.05,379.18 L440.05,379.83 L441.05,380.47 L442.05,381.11 L443.05,381.75 L444.05,382.38 L445.05,383.01 L446.05,383.63 L447.05,384.25 L448.05,384.86 L449.05,385.47 L450.05,386.07 L451.05,386.67 L452.05,387.26 L453.05,387.85 L454.05,388.43 L455.05,389.01 L456.05,389.58 L457.05,390.15 L458.05,390.71 L459.05,391.26 L460.05,391.81 L461.05,392.36 L462.05,392.90 L463.05,393.43 L464.05,393.96 L465.05,394.48 L466.05,395.00 L467.05,395.51 L468.05,396.01 L469.05,396.51 L470.05,397.00 L471.05,397.49 L472.05,397.97 L473.05,398.45 L474.05,398.92 L475.05,399.38 L476.05,399.84 L477.05,400.29 L478.05,400.74 L479.05,401.18 L480.05,401.61 L481.05,402.04 L482.05,402.46 L483.05,402.88 L484.05,403.29 L485.05,403.70 L486.05,404.10 L487.05,404.50 L488.05,404.88 L489.05,405.27 L490.05,405.65 L491.05,406.02 L492.05,406.39 L493.05,406.75 L494.05,407.11 L495.05,407.46 L496.05,407.80 L497.05,408.14 L498.05,408.48 L499.05,408.81 L500.05,409.13 L501.05,409.45 L502.05,409.77 L503.05,410.08 L504.05,410.38 L505.05,410.68 L506.05,410.98 L507.05,411.27 L508.05,411.55 L509.05,411.83 L510.05,412.11 L511.05,412.38 L512.05,412.65 L513.05,412.91 L514.05,413.17 L515.05,413.42 L516.05,413.67 L517.05,413.92 L518.05,414.16 L519.05,414.39 L520.05,414.62 L521.05,414.85 L522.05,415.08 L523.05,415.30 L524.05,415.51 L525.05,415.72 L526.05,415.93 L527.05,416.14 L528.05,416.34 L529.05,416.53 L530.05,416.73 L531.05,416.92 L532.05,417.10 L533.05,417.28 L534.05,417.46 L535.05,417.64 L536.05,417.81 L537.05,417.98 L538.05,418.14 L539.05,418.31 L540.05,418.47 L541.05,418.62 L542.05,418.78 L543.05,418.93 L544.05,419.07 L545.05,419.22 L546.05,419.36 L547.05,419.50 L548.05,419.63 L549.05,419.77 L550.05,419.90 L551.05,420.02 L552.05,420.15 L553.05,420.27 L554.05,420.39 L555.05,420.51 L556.05,420.62 L557.05,420.74 L558.05,420.85 L559.05,420.96 L560.05,421.06 L561.05,421.16 L562.05,421.27 L562.70,421.33" stroke="#2c86c7"/>
<path d="M48.20,425.14 L49.20,425.12 L50.20,425.09 L51.20,425.07 L52.20,425.04 L53.20,425.01 L54.20,424.98 L55.20,424.95 L56.20,424.92 L57.20,424.89 L58.20,424.86 L59.20,424.83 L60.20,424.79 L61.20,424.75 L62.20,424.71 L63.20,424.67 L64.20,424.63 L65.20,424.59 L66.20,424.54 L67.20,424.49 L68.20,424.44 L69.20,424.39 L70.20,424.33 L71.20,424.27 L72.20,424.20 L73.20,424.13 L74.20,424.06 L75.20,423.98 L76.20,423.89 L77.20,423.79 L78.20,423.68 L79.20,423.55 L80.20,423.41 L80.35,423.39 L80.50,423.36 L80.65,423.34 L80.80,423.31 L80.95,423.29 L81.10,423.26 L81.25,423.24 L81.40,423.21 L81.55,423.18 L81.70,423.15 L81.85,423.12 L82.00,423.09 L82.15,423.06 L82.30,423.03 L82.45,423.00 L82.60,422.97 L82.75,422.93 L82.90,422.90 L83.05,422.86 L83.20,422.82 L83.35,422.79 L83.50,422.75 L83.65,422.71 L83.80,422.67 L83.95,422.62 L84.10,422.58 L84.25,422.53 L84.40,422.49 L84.55,422.44 L84.70,422.39 L84.85,422.34 L85.00,422.29 L85.15,422.23 L85.30,422.18 L85.45,422.12 L85.60,422.06 L85.75,422.00 L85.90,421.94 L86.05,421.87 L86.20,421.80 L86.35,421.73 L86.50,421.66 L86.65,421.59 L86.80,421.51 L86.95,421.43 L87.10,421.35 L87.25,421.26 L87.40,421.17 L87.55,421.08 L87.70,420.99 L87.85,420.89 L88.00,420.79 L88.15,420.68 L88.30,420.57 L88.45,420.46 L88.60,420.34 L88.75,420.24 L88.90,419.67 L89.05,419.11 L89.20,418.54 L89.35,417.97 L89.50,417.40 L89.65,416.84 L89.80,416.27 L89.95,415.70 L90.10,415.13 L90.25,414.57 L90.40,414.00 L90.55,411.09 L90.70,408.17 L90.85,405.26 L91.00,402.34 L91.15,391.04 L91.30,362.96 L91.45,355.02 L91.60,347.08 L91.75,339.14 L91.90,331.21 L92.05,322.96 L92.20,314.56 L92.35,306.16 L92.50,297.76 L92.65,293.30 L92.80,290.80 L92.95,288.30 L93.10,285.81 L93.25,283.31 L93.40,280.82 L93.55,278.32 L93.70,275.82 L93.85,273.65 L94.00,272.12 L94.15,270.59 L94.30,269.06 L94.45,267.53 L94.60,266.00 L94.75,267.53 L94.90,269.06 L95.05,270.59 L95.20,272.12 L95.35,273.65 L95.50,275.82 L95.65,278.32 L95.80,280.82 L95.95,283.31 L96.10,285.81 L96.25,288.30 L96.40,290.80 L96.55,293.30 L96.70,297.76 L96.85,306.16 L97.00,314.56 L97.15,322.96 L97.30,331.21 L97.45,339.14 L97.60,347.08 L97.75,355.02 L97.90,362.96 L98.05,391.04 L98.20,402.34 L98.35,405.26 L98.50,408.17 L98.65,411.09 L98.80,414.00 L98.95,414.57 L99.10,415.13 L99.25,415.70 L99.40,416.27 L99.55,416.84 L99.70,417.40 L99.85,417.97 L100.00,418.54 L100.15,419.11 L100.30,419.67 L100.45,420.22 L100.60,420.34 L100.75,420.46 L100.90,420.57 L101.05,420.68 L101.20,420.79 L101.35,420.89 L101.50,420.99 L101.65,421.08 L101.80,421.17 L101.95,421.26 L102.10,421.35 L102.25,421.43 L102.40,421.51 L102.55,421.59 L102.70,421.66 L102.85,421.73 L103.00,421.80 L103.15,421.87 L103.30,421.94 L103.45,422.00 L103.60,422.06 L103.75,422.12 L103.90,422.18 L104.05,422.23 L104.20,422.29 L104.35,422.34 L104.50,422.39 L104.65,422.44 L104.80,422.49 L104.95,422.53 L105.10,422.58 L105.25,422.62 L105.40,422.67 L105.55,422.71 L105.70,422.75 L105.85,422.79 L106.00,422.82 L106.15,422.86 L106.30,422.90 L106.45,422.93 L106.60,422.97 L106.75,423.00 L106.90,423.03 L107.05,423.06 L107.20,423.09 L107.35,423.12 L107.50,423.15 L107.65,423.18 L107.80,423.21 L107.95,423.24 L108.10,423.26 L108.25,423.29 L108.40,423.31 L108.55,423.34 L108.70,423.36 L108.85,423.39 L109.00,423.41 L109.15,423.43 L109.30,423.45 L109.45,423.48 L109.60,423.50 L109.75,423.52 L109.90,423.54 L110.05,423.56 L111.05,423.68 L112.05,423.79 L113.05,423.89 L114.05,423.98 L115.05,424.06 L116.05,424.14 L117.05,424.21 L118.05,424.27 L119.05,424.33 L120.05,424.39 L121.05,424.44 L122.05,424.50 L123.05,424.54 L124.05,424.59 L125.05,424.63 L126.05,424.68 L127.05,424.72 L128.05,424.75 L129.05,424.79 L130.05,424.83 L131.05,424.86 L132.05,424.89 L133.05,424.93 L134.05,424.96 L135.05,424.99 L136.05,425.01 L137.05,425.04 L138.05,425.07 L139.05,425.09 L140.05,425.12 L141.05,425.14 L142.05,425.16 L143.05,425.19 L144.05,425.21 L145.05,425.23 L146.05,425.25 L147.05,425.27 L148.05,425.28 L149.05,425.30 L150.05,425.32 L151.05,425.34 L152.05,425.35 L153.05,425.37 L154.05,425.38 L155.05,425.40 L156.05,425.41 L157.05,425.43 L158.05,425.44 L159.05,425.45 L160.05,425.46 L161.05,425.48 L162.05,425.49 L163.05,425.50 L164.05,425.51 L165.05,425.52 L166.05,425.53 L167.05,425.54 L168.05,425.55 L169.05,425.55 L170.05,425.56 L171.05,425.57 L172.05,425.58 L173.05,425.58 L174.05,425.59 L175.05,425.59 L176.05,425.60 L177.05,425.60 L178.05,425.60 L179.05,425.61 L180.05,425.61 L181.05,425.61 L182.05,425.61 L183.05,425.61 L184.05,425.60 L185.05,425.60 L186.05,425.60 L187.05,425.59 L188.05,425.58 L189.05,425.57 L190.05,425.56 L191.05,425.54 L192.05,425.53 L193.05,425.51 L194.05,425.48 L195.05,425.46 L196.05,425.43 L197.05,425.40 L198.05,425.36 L199.05,425.32 L200.05,425.28 L201.05,425.23 L202.05,425.18 L203.05,425.12 L204.05,425.05 L205.05,424.98 L206.05,424.90 L207.05,424.81 L208.05,424.72 L209.05,424.62 L210.05,424.50 L211.05,424.38 L212.05,424.25 L213.05,424.11 L214.05,423.96 L215.05,423.79 L216.05,423.61 L217.05,423.42 L218.05,423.22 L219.05,423.00 L220.05,422.76 L221.05,422.51 L222.05,422.24 L223.05,421.96 L224.05,421.65 L225.05,421.33 L226.05,420.98 L227.05,420.62 L228.05,420.23 L229.05,419.82 L230.05,419.38 L231.05,418.93 L232.05,418.44 L233.05,417.94 L234.05,417.40 L235.05,416.84 L236.05,416.25 L237.05,415.63 L238.05,414.99 L239.05,414.31 L240.05,413.60 L241.05,412.87 L242.05,412.10 L243.05,411.30 L244.05,410.46 L245.05,409.60 L246.05,408.70 L247.05,407.76 L248.05,406.80 L249.05,405.80 L250.05,404.77 L251.05,403.70 L252.05,402.60 L253.05,401.46 L254.05,400.30 L255.05,399.09 L256.05,397.86 L257.05,396.59 L258.05,395.29 L259.05,393.96 L260.05,392.60 L261.05,391.20 L262.05,389.78 L263.05,388.33 L264.05,386.85 L265.05,385.34 L266.05,383.80 L267.05,382.24 L268.05,380.66 L269.05,379.05 L270.05,377.42 L271.05,375.77 L272.05,374.10 L273.05,372.41 L274.05,370.71 L275.05,368.99 L276.05,367.25 L277.05,365.51 L278.05,363.75 L279.05,361.99 L280.05,360.21 L281.05,358.43 L282.05,356.65 L283.05,354.87 L284.05,353.08 L285.05,351.30 L286.05,349.52 L287.05,347.74 L288.05,345.97 L289.05,344.21 L290.05,342.46 L291.05,340.72 L292.05,338.99 L293.05,337.28 L294.05,335.58 L295.05,333.91 L296.05,332.25 L297.05,330.61 L298.05,329.00 L299.05,327.41 L300.05,325.84 L301.05,324.30 L302.05,322.79 L303.05,321.32 L304.05,319.87 L305.05,318.45 L306.05,317.07 L307.05,315.72 L308.05,314.40 L309.05,313.12 L310.05,311.88 L311.05,310.68 L312.05,309.51 L313.05,308.38 L314.05,307.30 L315.05,306.25 L316.05,305.24 L317.05,304.28 L318.05,303.35 L319.05,302.47 L320.05,301.63 L321.05,300.83 L322.05,300.07 L323.05,299.36 L324.05,298.68 L325.05,298.05 L326.05,297.46 L327.05,296.90 L328.05,296.39 L329.05,295.92 L330.05,295.49 L331.05,295.10 L332.05,294.74 L333.05,294.43 L334.05,294.14 L335.05,293.90 L336.05,293.69 L337.05,293.51 L338.05,293.36 L339.05,293.25 L340.05,293.16 L341.05,293.10 L342.05,293.07 L343.05,293.05 L344.05,293.05 L345.05,293.06 L346.05,293.09 L347.05,293.14 L348.05,293.20 L349.05,293.29 L350.05,293.39 L351.05,293.52 L352.05,293.67 L353.05,293.84 L354.05,294.03 L355.05,294.24 L356.05,294.48 L357.05,294.74 L358.05,295.02 L359.05,295.33 L360.05,295.66 L361.05,296.01 L362.05,296.39 L363.05,296.79 L364.05,297.21 L365.05,297.66 L366.05,298.12 L367.05,298.61 L368.05,299.13 L369.05,299.66 L370.05,300.22 L371.05,300.80 L372.05,301.40 L373.05,302.02 L374.05,302.66 L375.05,303.32 L376.05,304.00 L377.05,304.70 L378.05,305.42 L379.05,306.16 L380.05,306.92 L381.05,307.69 L382.05,308.49 L383.05,309.29 L384.05,310.12 L385.05,310.96 L386.05,311.82 L387.05,312.69 L388.05,313.58 L389.05,314.48 L390.05,315.39 L391.05,316.32 L392.05,317.26 L393.05,318.21 L394.05,319.17 L395.05,320.15 L396.05,321.13 L397.05,322.12 L398.05,323.12 L399.05,324.13 L400.05,325.15 L401.05,326.18 L402.05,327.21 L403.05,328.25 L404.05,329.30 L405.05,330.35 L406.05,331.40 L407.05,332.46 L408.05,333.53 L409.05,334.59 L410.05,335.66 L411.05,336.73 L412.05,337.80 L413.05,338.88 L414.05,339.95 L415.05,341.03 L416.05,342.10 L417.05,343.18 L418.05,344.25 L419.05,345.32 L420.05,346.39 L421.05,347.46 L422.05,348.52 L423.05,349.59 L424.05,350.64 L425.05,351.70 L426.05,352.75 L427.05,353.79 L428.05,354.83 L429.05,355.86 L430.05,356.89 L431.05,357.91 L432.05,358.93 L433.05,359.94 L434.05,360.94 L435.05,361.94 L436.05,362.93 L437.05,363.91 L438.05,364.88 L439.05,365.84 L440.05,366.80 L441.05,367.75 L442.05,368.68 L443.05,369.61 L444.05,370.53 L445.05,371.44 L446.05,372.35 L447.05,373.24 L448.05,374.12 L449.05,374.99 L450.05,375.86 L451.05,376.71 L452.05,377.55 L453.05,378.38 L454.05,379.21 L455.05,380.02 L456.05,380.82 L457.05,381.61 L458.05,382.39 L459.05,383.16 L460.05,383.92 L461.05,384.67 L462.05,385.40 L463.05,386.13 L464.05,386.85 L465.05,387.55 L466.05,388.25 L467.05,388.94 L468.05,389.61 L469.05,390.27 L470.05,390.93 L471.05,391.57 L472.05,392.20 L473.05,392.83 L474.05,393.44 L475.05,394.04 L476.05,394.63 L477.05,395.21 L478.05,395.79 L479.05,396.35 L480.05,396.90 L481.05,397.44 L482.05,397.98 L483.05,398.50 L484.05,399.01 L485.05,399.52 L486.05,400.01 L487.05,400.50 L488.05,400.98 L489.05,401.45 L490.05,401.91 L491.05,402.36 L492.05,402.80 L493.05,403.23 L494.05,403.66 L495.05,404.08 L496.05,404.49 L497.05,404.89 L498.05,405.28 L499.05,405.67 L500.05,406.05 L501.05,406.42 L502.05,406.78 L503.05,407.14 L504.05,407.48 L505.05,407.83 L506.05,408.16 L507.05,408.49 L508.05,408.81 L509.05,409.13 L510.05,409.43 L511.05,409.74 L512.05,410.03 L513.05,410.32 L514.05,410.60 L515.05,410.88 L516.05,411.15 L517.05,411.42 L518.05,411.68 L519.05,411.94 L520.05,412.19 L521.05,412.43 L522.05,412.67 L523.05,412.91 L524.05,413.14 L525.05,413.36 L526.05,413.58 L527.05,413.80 L528.05,414.01 L529.05,414.21 L530.05,414.42 L531.05,414.61 L532.05,414.81 L533.05,415.00 L534.05,415.18 L535.05,415.37 L536.05,415.54 L537.05,415.72 L538.05,415.89 L539.05,416.06 L540.05,416.22 L541.05,416.38 L542.05,416.54 L543.05,416.69 L544.05,416.84 L545.05,416.99 L546.05,417.14 L547.05,417.28 L548.05,417.42 L549.05,417.55 L550.05,417.69 L551.05,417.82 L552.05,417.95 L553.05,418.07 L554.05,418.20 L555.05,418.32 L556.05,418.43 L557.05,418.55 L558.05,418.66 L559.05,418.78 L560.05,418.88 L561.05,418.99 L562.05,419.10 L562.70,419.16" stroke="#62c2c9"/>
<path d="M48.20,424.82 L49.20,424.78 L50.20,424.75 L51.20,424.72 L52.20,424.68 L53.20,424.64 L54.20,424.60 L55.20,424.56 L56.20,424.52 L57.20,424.48 L58.20,424.43 L59.20,424.38 L60.20,424.34 L61.20,424.28 L62.20,424.23 L63.20,424.18 L64.20,424.12 L65.20,424.06 L66.20,423.99 L67.20,423.93 L68.20,423.86 L69.20,423.78 L70.20,423.70 L71.20,423.62 L72.20,423.53 L73.20,423.44 L74.20,423.33 L75.20,423.22 L76.20,423.09 L77.20,422.96 L78.20,422.81 L79.20,422.63 L80.20,422.44 L80.35,422.41 L80.50,422.37 L80.65,422.34 L80.80,422.31 L80.95,422.27 L81.10,422.24 L81.25,422.20 L81.40,422.16 L81.55,422.12 L81.70,422.08 L81.85,422.04 L82.00,422.00 L82.15,421.96 L82.30,421.92 L82.45,421.87 L82.60,421.83 L82.75,421.78 L82.90,421.73 L83.05,421.68 L83.20,421.63 L83.35,421.58 L83.50,421.53 L83.65,421.47 L83.80,421.41 L83.95,421.36 L84.10,421.30 L84.25,421.23 L84.40,421.17 L84.55,421.10 L84.70,421.04 L84.85,420.97 L85.00,420.90 L85.15,420.82 L85.30,420.74 L85.45,420.67 L85.60,420.58 L85.75,420.50 L85.90,420.41 L86.05,420.32 L86.20,420.23 L86.35,420.13 L86.50,420.03 L86.65,419.93 L86.80,419.82 L86.95,419.71 L87.10,419.60 L87.25,419.48 L87.40,419.36 L87.55,419.24 L87.70,419.11 L87.85,418.97 L88.00,418.83 L88.15,418.69 L88.30,418.54 L88.45,418.38 L88.60,418.22 L88.75,418.08 L88.90,417.30 L89.05,416.52 L89.20,415.74 L89.35,414.96 L89.50,414.18 L89.65,413.40 L89.80,412.62 L89.95,411.84 L90.10,411.06 L90.25,410.28 L90.40,409.50 L90.55,405.49 L90.70,401.49 L90.85,397.48 L91.00,393.47 L91.15,377.93 L91.30,339.32 L91.45,328.40 L91.60,317.49 L91.75,306.57 L91.90,295.66 L92.05,284.32 L92.20,272.77 L92.35,261.22 L92.50,249.67 L92.65,243.53 L92.80,240.10 L92.95,236.67 L93.10,233.24 L93.25,229.80 L93.40,226.37 L93.55,222.94 L93.70,219.51 L93.85,216.52 L94.00,214.41 L94.15,212.31 L94.30,210.21 L94.45,208.10 L94.60,206.00 L94.75,208.10 L94.90,210.21 L95.05,212.31 L95.20,214.41 L95.35,216.52 L95.50,219.51 L95.65,222.94 L95.80,226.37 L95.95,229.80 L96.10,233.24 L96.25,236.67 L96.40,240.10 L96.55,243.53 L96.70,249.67 L96.85,261.22 L97.00,272.77 L97.15,284.32 L97.30,295.66 L97.45,306.57 L97.60,317.49 L97.75,328.40 L97.90,339.32 L98.05,377.93 L98.20,393.47 L98.35,397.48 L98.50,401.49 L98.65,405.49 L98.80,409.50 L98.95,410.28 L99.10,411.06 L99.25,411.84 L99.40,412.62 L99.55,413.40 L99.70,414.18 L99.85,414.96 L100.00,415.74 L100.15,416.52 L100.30,417.30 L100.45,418.06 L100.60,418.22 L100.75,418.38 L100.90,418.54 L101.05,418.69 L101.20,418.83 L101.35,418.97 L101.50,419.11 L101.65,419.24 L101.80,419.36 L101.95,419.48 L102.10,419.60 L102.25,419.71 L102.40,419.82 L102.55,419.93 L102.70,420.03 L102.85,420.13 L103.00,420.23 L103.15,420.32 L103.30,420.41 L103.45,420.50 L103.60,420.58 L103.75,420.67 L103.90,420.74 L104.05,420.82 L104.20,420.90 L104.35,420.97 L104.50,421.04 L104.65,421.10 L104.80,421.17 L104.95,421.23 L105.10,421.30 L105.25,421.36 L105.40,421.41 L105.55,421.47 L105.70,421.53 L105.85,421.58 L106.00,421.63 L106.15,421.68 L106.30,421.73 L106.45,421.78 L106.60,421.83 L106.75,421.87 L106.90,421.92 L107.05,421.96 L107.20,422.00 L107.35,422.04 L107.50,422.08 L107.65,422.12 L107.80,422.16 L107.95,422.20 L108.10,422.24 L108.25,422.27 L108.40,422.31 L108.55,422.34 L108.70,422.37 L108.85,422.41 L109.00,422.44 L109.15,422.47 L109.30,422.50 L109.45,422.53 L109.60,422.56 L109.75,422.59 L109.90,422.62 L110.05,422.64 L111.05,422.81 L112.05,422.97 L113.05,423.10 L114.05,423.22 L115.05,423.34 L116.05,423.44 L117.05,423.54 L118.05,423.62 L119.05,423.71 L120.05,423.79 L121.05,423.86 L122.05,423.93 L123.05,424.00 L124.05,424.06 L125.05,424.12 L126.05,424.18 L127.05,424.23 L128.05,424.29 L129.05,424.34 L130.05,424.39 L131.05,424.43 L132.05,424.48 L133.05,424.52 L134.05,424.56 L135.05,424.60 L136.05,424.64 L137.05,424.68 L138.05,424.72 L139.05,424.75 L140.05,424.79 L141.05,424.82 L142.05,424.85 L143.05,424.88 L144.05,424.91 L145.05,424.94 L146.05,424.96 L147.05,424.99 L148.05,425.02 L149.05,425.04 L150.05,425.06 L151.05,425.09 L152.05,425.11 L153.05,425.13 L154.05,425.15 L155.05,425.17 L156.05,425.19 L157.05,425.21 L158.05,425.23 L159.05,425.25 L160.05,425.26 L161.05,425.28 L162.05,425.29 L163.05,425.31 L164.05,425.32 L165.05,425.34 L166.05,425.35 L167.05,425.36 L168.05,425.37 L169.05,425.38 L170.05,425.39 L171.05,425.40 L172.05,425.41 L173.05,425.42 L174.05,425.43 L175.05,425.43 L176.05,425.44 L177.05,425.44 L178.05,425.44 L179.05,425.45 L180.05,425.45 L181.05,425.45 L182.05,425.44 L183.05,425.44 L184.05,425.43 L185.05,425.42 L186.05,425.41 L187.05,425.40 L188.05,425.38 L189.05,425.37 L190.05,425.34 L191.05,425.32 L192.05,425.29 L193.05,425.26 L194.05,425.22 L195.05,425.18 L196.05,425.13 L197.05,425.08 L198.05,425.02 L199.05,424.96 L200.05,424.89 L201.05,424.81 L202.05,424.72 L203.05,424.63 L204.05,424.53 L205.05,424.41 L206.05,424.29 L207.05,424.16 L208.05,424.01 L209.05,423.85 L210.05,423.68 L211.05,423.49 L212.05,423.29 L213.05,423.08 L214.05,422.85 L215.05,422.60 L216.05,422.33 L217.05,422.04 L218.05,421.74 L219.05,421.41 L220.05,421.06 L221.05,420.69 L222.05,420.30 L223.05,419.87 L224.05,419.43 L225.05,418.96 L226.05,418.46 L227.05,417.93 L228.05,417.37 L229.05,416.78 L230.05,416.16 L231.05,415.51 L232.05,414.82 L233.05,414.10 L234.05,413.35 L235.05,412.56 L236.05,411.73 L237.05,410.87 L238.05,409.97 L239.05,409.03 L240.05,408.05 L241.05,407.04 L242.05,405.98 L243.05,404.88 L244.05,403.74 L245.05,402.57 L246.05,401.35 L247.05,400.09 L248.05,398.79 L249.05,397.45 L250.05,396.06 L251.05,394.64 L252.05,393.18 L253.05,391.68 L254.05,390.14 L255.05,388.56 L256.05,386.94 L257.05,385.28 L258.05,383.59 L259.05,381.87 L260.05,380.10 L261.05,378.31 L262.05,376.48 L263.05,374.62 L264.05,372.73 L265.05,370.82 L266.05,368.87 L267.05,366.90 L268.05,364.91 L269.05,362.89 L270.05,360.86 L271.05,358.80 L272.05,356.73 L273.05,354.65 L274.05,352.55 L275.05,350.43 L276.05,348.31 L277.05,346.19 L278.05,344.05 L279.05,341.92 L280.05,339.78 L281.05,337.64 L282.05,335.51 L283.05,333.38 L284.05,331.26 L285.05,329.15 L286.05,327.05 L287.05,324.96 L288.05,322.89 L289.05,320.83 L290.05,318.80 L291.05,316.79 L292.05,314.80 L293.05,312.83 L294.05,310.89 L295.05,308.98 L296.05,307.11 L297.05,305.26 L298.05,303.45 L299.05,301.67 L300.05,299.93 L301.05,298.22 L302.05,296.56 L303.05,294.94 L304.05,293.35 L305.05,291.81 L306.05,290.32 L307.05,288.87 L308.05,287.46 L309.05,286.11 L310.05,284.79 L311.05,283.53 L312.05,282.32 L313.05,281.15 L314.05,280.03 L315.05,278.96 L316.05,277.95 L317.05,276.98 L318.05,276.06 L319.05,275.19 L320.05,274.37 L321.05,273.59 L322.05,272.87 L323.05,272.20 L324.05,271.57 L325.05,270.99 L326.05,270.46 L327.05,269.98 L328.05,269.53 L329.05,269.14 L330.05,268.78 L331.05,268.47 L332.05,268.20 L333.05,267.97 L334.05,267.78 L335.05,267.62 L336.05,267.50 L337.05,267.41 L338.05,267.35 L339.05,267.31 L340.05,267.30 L341.05,267.31 L342.05,267.33 L343.05,267.36 L344.05,267.42 L345.05,267.51 L346.05,267.61 L347.05,267.74 L348.05,267.90 L349.05,268.08 L350.05,268.29 L351.05,268.53 L352.05,268.79 L353.05,269.08 L354.05,269.39 L355.05,269.74 L356.05,270.11 L357.05,270.51 L358.05,270.93 L359.05,271.39 L360.05,271.87 L361.05,272.38 L362.05,272.91 L363.05,273.48 L364.05,274.07 L365.05,274.68 L366.05,275.33 L367.05,275.99 L368.05,276.69 L369.05,277.41 L370.05,278.15 L371.05,278.92 L372.05,279.72 L373.05,280.54 L374.05,281.38 L375.05,282.24 L376.05,283.13 L377.05,284.03 L378.05,284.96 L379.05,285.91 L380.05,286.88 L381.05,287.87 L382.05,288.88 L383.05,289.90 L384.05,290.95 L385.05,292.01 L386.05,293.09 L387.05,294.18 L388.05,295.29 L389.05,296.42 L390.05,297.55 L391.05,298.71 L392.05,299.87 L393.05,301.05 L394.05,302.23 L395.05,303.43 L396.05,304.64 L397.05,305.86 L398.05,307.08 L399.05,308.32 L400.05,309.56 L401.05,310.81 L402.05,312.06 L403.05,313.32 L404.05,314.59 L405.05,315.86 L406.05,317.13 L407.05,318.41 L408.05,319.69 L409.05,320.97 L410.05,322.25 L411.05,323.53 L412.05,324.82 L413.05,326.10 L414.05,327.38 L415.05,328.66 L416.05,329.94 L417.05,331.22 L418.05,332.49 L419.05,333.76 L420.05,335.02 L421.05,336.28 L422.05,337.54 L423.05,338.79 L424.05,340.03 L425.05,341.27 L426.05,342.50 L427.05,343.73 L428.05,344.94 L429.05,346.15 L430.05,347.36 L431.05,348.55 L432.05,349.73 L433.05,350.91 L434.05,352.07 L435.05,353.23 L436.05,354.38 L437.05,355.51 L438.05,356.64 L439.05,357.76 L440.05,358.86 L441.05,359.95 L442.05,361.04 L443.05,362.11 L444.05,363.17 L445.05,364.22 L446.05,365.25 L447.05,366.28 L448.05,367.29 L449.05,368.29 L450.05,369.28 L451.05,370.26 L452.05,371.22 L453.05,372.17 L454.05,373.11 L455.05,374.04 L456.05,374.95 L457.05,375.85 L458.05,376.74 L459.05,377.61 L460.05,378.48 L461.05,379.33 L462.05,380.16 L463.05,380.99 L464.05,381.80 L465.05,382.60 L466.05,383.39 L467.05,384.17 L468.05,384.93 L469.05,385.68 L470.05,386.42 L471.05,387.14 L472.05,387.86 L473.05,388.56 L474.05,389.25 L475.05,389.93 L476.05,390.60 L477.05,391.25 L478.05,391.90 L479.05,392.53 L480.05,393.15 L481.05,393.76 L482.05,394.36 L483.05,394.95 L484.05,395.53 L485.05,396.10 L486.05,396.65 L487.05,397.20 L488.05,397.74 L489.05,398.26 L490.05,398.78 L491.05,399.29 L492.05,399.78 L493.05,400.27 L494.05,400.75 L495.05,401.22 L496.05,401.68 L497.05,402.13 L498.05,402.57 L499.05,403.00 L500.05,403.43 L501.05,403.85 L502.05,404.25 L503.05,404.65 L504.05,405.05 L505.05,405.43 L506.05,405.81 L507.05,406.18 L508.05,406.54 L509.05,406.89 L510.05,407.24 L511.05,407.58 L512.05,407.91 L513.05,408.24 L514.05,408.56 L515.05,408.87 L516.05,409.18 L517.05,409.48 L518.05,409.78 L519.05,410.07 L520.05,410.35 L521.05,410.63 L522.05,410.90 L523.05,411.16 L524.05,411.42 L525.05,411.68 L526.05,411.93 L527.05,412.18 L528.05,412.42 L529.05,412.65 L530.05,412.88 L531.05,413.11 L532.05,413.33 L533.05,413.55 L534.05,413.76 L535.05,413.97 L536.05,414.17 L537.05,414.37 L538.05,414.57 L539.05,414.76 L540.05,414.95 L541.05,415.13 L542.05,415.31 L543.05,415.49 L544.05,415.67 L545.05,415.84 L546.05,416.00 L547.05,416.17 L548.05,416.33 L549.05,416.49 L550.05,416.64 L551.05,416.79 L552.05,416.94 L553.05,417.09 L554.05,417.23 L555.05,417.37 L556.05,417.51 L557.05,417.65 L558.05,417.78 L559.05,417.91 L560.05,418.04 L561.05,418.16 L562.05,418.29 L562.70,418.36" stroke="#5db632"/>
<path d="M48.20,424.44 L49.20,424.40 L50.20,424.35 L51.20,424.31 L52.20,424.26 L53.20,424.21 L54.20,424.16 L55.20,424.11 L56.20,424.05 L57.20,423.99 L58.20,423.93 L59.20,423.87 L60.20,423.81 L61.20,423.74 L62.20,423.67 L63.20,423.60 L64.20,423.52 L65.20,423.44 L66.20,423.36 L67.20,423.27 L68.20,423.18 L69.20,423.08 L70.20,422.97 L71.20,422.86 L72.20,422.75 L73.20,422.62 L74.20,422.48 L75.20,422.33 L76.20,422.17 L77.20,421.99 L78.20,421.79 L79.20,421.56 L80.20,421.30 L80.35,421.26 L80.50,421.22 L80.65,421.18 L80.80,421.13 L80.95,421.08 L81.10,421.04 L81.25,420.99 L81.40,420.94 L81.55,420.89 L81.70,420.84 L81.85,420.78 L82.00,420.73 L82.15,420.68 L82.30,420.62 L82.45,420.56 L82.60,420.50 L82.75,420.44 L82.90,420.37 L83.05,420.31 L83.20,420.24 L83.35,420.17 L83.50,420.10 L83.65,420.03 L83.80,419.96 L83.95,419.88 L84.10,419.80 L84.25,419.72 L84.40,419.63 L84.55,419.55 L84.70,419.46 L84.85,419.37 L85.00,419.27 L85.15,419.17 L85.30,419.07 L85.45,418.97 L85.60,418.86 L85.75,418.75 L85.90,418.63 L86.05,418.52 L86.20,418.39 L86.35,418.27 L86.50,418.13 L86.65,418.00 L86.80,417.86 L86.95,417.71 L87.10,417.56 L87.25,417.41 L87.40,417.25 L87.55,417.08 L87.70,416.91 L87.85,416.73 L88.00,416.55 L88.15,416.36 L88.30,416.16 L88.45,415.96 L88.60,415.75 L88.75,415.56 L88.90,414.53 L89.05,413.50 L89.20,412.48 L89.35,411.45 L89.50,410.42 L89.65,409.39 L89.80,408.36 L89.95,407.33 L90.10,406.31 L90.25,405.28 L90.40,404.25 L90.55,398.97 L90.70,393.69 L90.85,388.40 L91.00,383.12 L91.15,362.63 L91.30,311.74 L91.45,297.35 L91.60,282.96 L91.75,268.57 L91.90,254.19 L92.05,239.24 L92.20,224.01 L92.35,208.79 L92.50,193.56 L92.65,185.47 L92.80,180.95 L92.95,176.43 L93.10,171.90 L93.25,167.38 L93.40,162.85 L93.55,158.33 L93.70,153.81 L93.85,149.87 L94.00,147.09 L94.15,144.32 L94.30,141.55 L94.45,138.77 L94.60,136.00 L94.75,138.77 L94.90,141.55 L95.05,144.32 L95.20,147.09 L95.35,149.87 L95.50,153.81 L95.65,158.33 L95.80,162.85 L95.95,167.38 L96.10,171.90 L96.25,176.43 L96.40,180.95 L96.55,185.47 L96.70,193.56 L96.85,208.79 L97.00,224.01 L97.15,239.24 L97.30,254.19 L97.45,268.57 L97.60,282.96 L97.75,297.35 L97.90,311.74 L98.05,362.63 L98.20,383.12 L98.35,388.40 L98.50,393.69 L98.65,398.97 L98.80,404.25 L98.95,405.28 L99.10,406.31 L99.25,407.33 L99.40,408.36 L99.55,409.39 L99.70,410.42 L99.85,411.45 L100.00,412.48 L100.15,413.50 L100.30,414.53 L100.45,415.53 L100.60,415.75 L100.75,415.96 L100.90,416.16 L101.05,416.36 L101.20,416.55 L101.35,416.73 L101.50,416.91 L101.65,417.08 L101.80,417.25 L101.95,417.41 L102.10,417.56 L102.25,417.71 L102.40,417.86 L102.55,418.00 L102.70,418.13 L102.85,418.27 L103.00,418.39 L103.15,418.52 L103.30,418.63 L103.45,418.75 L103.60,418.86 L103.75,418.97 L103.90,419.07 L104.05,419.17 L104.20,419.27 L104.35,419.37 L104.50,419.46 L104.65,419.55 L104.80,419.63 L104.95,419.72 L105.10,419.80 L105.25,419.88 L105.40,419.96 L105.55,420.03 L105.70,420.10 L105.85,420.17 L106.00,420.24 L106.15,420.31 L106.30,420.37 L106.45,420.44 L106.60,420.50 L106.75,420.56 L106.90,420.62 L107.05,420.68 L107.20,420.73 L107.35,420.78 L107.50,420.84 L107.65,420.89 L107.80,420.94 L107.95,420.99 L108.10,421.04 L108.25,421.08 L108.40,421.13 L108.55,421.18 L108.70,421.22 L108.85,421.26 L109.00,421.30 L109.15,421.35 L109.30,421.39 L109.45,421.42 L109.60,421.46 L109.75,421.50 L109.90,421.54 L110.05,421.57 L111.05,421.80 L112.05,422.00 L113.05,422.18 L114.05,422.34 L115.05,422.49 L116.05,422.63 L117.05,422.75 L118.05,422.87 L119.05,422.98 L120.05,423.08 L121.05,423.18 L122.05,423.27 L123.05,423.36 L124.05,423.44 L125.05,423.52 L126.05,423.60 L127.05,423.67 L128.05,423.74 L129.05,423.81 L130.05,423.87 L131.05,423.94 L132.05,424.00 L133.05,424.05 L134.05,424.11 L135.05,424.16 L136.05,424.21 L137.05,424.26 L138.05,424.31 L139.05,424.35 L140.05,424.40 L141.05,424.44 L142.05,424.48 L143.05,424.52 L144.05,424.56 L145.05,424.60 L146.05,424.63 L147.05,424.67 L148.05,424.70 L149.05,424.73 L150.05,424.76 L151.05,424.79 L152.05,424.82 L153.05,424.85 L154.05,424.88 L155.05,424.90 L156.05,424.93 L157.05,424.95 L158.05,424.97 L159.05,424.99 L160.05,425.01 L161.05,425.03 L162.05,425.05 L163.05,425.07 L164.05,425.08 L165.05,425.10 L166.05,425.11 L167.05,425.13 L168.05,425.14 L169.05,425.15 L170.05,425.16 L171.05,425.16 L172.05,425.17 L173.05,425.17 L174.05,425.18 L175.05,425.18 L176.05,425.17 L177.05,425.17 L178.05,425.16 L179.05,425.16 L180.05,425.14 L181.05,425.13 L182.05,425.11 L183.05,425.09 L184.05,425.07 L185.05,425.04 L186.05,425.01 L187.05,424.97 L188.05,424.93 L189.05,424.88 L190.05,424.83 L191.05,424.77 L192.05,424.71 L193.05,424.64 L194.05,424.56 L195.05,424.47 L196.05,424.38 L197.05,424.27 L198.05,424.16 L199.05,424.04 L200.05,423.91 L201.05,423.76 L202.05,423.61 L203.05,423.44 L204.05,423.25 L205.05,423.06 L206.05,422.85 L207.05,422.62 L208.05,422.38 L209.05,422.12 L210.05,421.84 L211.05,421.54 L212.05,421.23 L213.05,420.89 L214.05,420.53 L215.05,420.15 L216.05,419.75 L217.05,419.32 L218.05,418.86 L219.05,418.38 L220.05,417.87 L221.05,417.34 L222.05,416.77 L223.05,416.17 L224.05,415.55 L225.05,414.89 L226.05,414.20 L227.05,413.47 L228.05,412.71 L229.05,411.91 L230.05,411.08 L231.05,410.21 L232.05,409.30 L233.05,408.36 L234.05,407.37 L235.05,406.35 L236.05,405.28 L237.05,404.17 L238.05,403.03 L239.05,401.83 L240.05,400.60 L241.05,399.33 L242.05,398.01 L243.05,396.64 L244.05,395.24 L245.05,393.79 L246.05,392.30 L247.05,390.76 L248.05,389.18 L249.05,387.56 L250.05,385.90 L251.05,384.19 L252.05,382.44 L253.05,380.66 L254.05,378.83 L255.05,376.96 L256.05,375.05 L257.05,373.10 L258.05,371.12 L259.05,369.10 L260.05,367.05 L261.05,364.96 L262.05,362.85 L263.05,360.70 L264.05,358.52 L265.05,356.31 L266.05,354.08 L267.05,351.82 L268.05,349.54 L269.05,347.24 L270.05,344.92 L271.05,342.58 L272.05,340.22 L273.05,337.86 L274.05,335.48 L275.05,333.09 L276.05,330.70 L277.05,328.29 L278.05,325.89 L279.05,323.49 L280.05,321.08 L281.05,318.69 L282.05,316.29 L283.05,313.91 L284.05,311.53 L285.05,309.17 L286.05,306.82 L287.05,304.49 L288.05,302.18 L289.05,299.89 L290.05,297.62 L291.05,295.38 L292.05,293.17 L293.05,290.98 L294.05,288.83 L295.05,286.71 L296.05,284.63 L297.05,282.58 L298.05,280.57 L299.05,278.61 L300.05,276.69 L301.05,274.81 L302.05,272.97 L303.05,271.19 L304.05,269.45 L305.05,267.76 L306.05,266.12 L307.05,264.54 L308.05,263.00 L309.05,261.53 L310.05,260.10 L311.05,258.74 L312.05,257.43 L313.05,256.17 L314.05,254.98 L315.05,253.84 L316.05,252.76 L317.05,251.74 L318.05,250.78 L319.05,249.88 L320.05,249.04 L321.05,248.26 L322.05,247.54 L323.05,246.87 L324.05,246.26 L325.05,245.71 L326.05,245.22 L327.05,244.79 L328.05,244.41 L329.05,244.08 L330.05,243.81 L331.05,243.59 L332.05,243.42 L333.05,243.29 L334.05,243.22 L335.05,243.18 L336.05,243.18 L337.05,243.21 L338.05,243.27 L339.05,243.37 L340.05,243.50 L341.05,243.66 L342.05,243.86 L343.05,244.10 L344.05,244.37 L345.05,244.68 L346.05,245.03 L347.05,245.41 L348.05,245.83 L349.05,246.28 L350.05,246.77 L351.05,247.30 L352.05,247.86 L353.05,248.45 L354.05,249.08 L355.05,249.74 L356.05,250.44 L357.05,251.17 L358.05,251.93 L359.05,252.72 L360.05,253.54 L361.05,254.40 L362.05,255.28 L363.05,256.19 L364.05,257.14 L365.05,258.11 L366.05,259.10 L367.05,260.13 L368.05,261.18 L369.05,262.25 L370.05,263.35 L371.05,264.47 L372.05,265.61 L373.05,266.78 L374.05,267.96 L375.05,269.17 L376.05,270.40 L377.05,271.64 L378.05,272.90 L379.05,274.18 L380.05,275.48 L381.05,276.79 L382.05,278.11 L383.05,279.45 L384.05,280.80 L385.05,282.16 L386.05,283.53 L387.05,284.92 L388.05,286.31 L389.05,287.71 L390.05,289.12 L391.05,290.54 L392.05,291.96 L393.05,293.39 L394.05,294.83 L395.05,296.26 L396.05,297.71 L397.05,299.15 L398.05,300.60 L399.05,302.04 L400.05,303.49 L401.05,304.94 L402.05,306.39 L403.05,307.83 L404.05,309.28 L405.05,310.72 L406.05,312.16 L407.05,313.59 L408.05,315.03 L409.05,316.45 L410.05,317.87 L411.05,319.29 L412.05,320.70 L413.05,322.10 L414.05,323.50 L415.05,324.89 L416.05,326.27 L417.05,327.64 L418.05,329.00 L419.05,330.36 L420.05,331.70 L421.05,333.04 L422.05,334.36 L423.05,335.68 L424.05,336.98 L425.05,338.28 L426.05,339.56 L427.05,340.83 L428.05,342.09 L429.05,343.34 L430.05,344.57 L431.05,345.80 L432.05,347.01 L433.05,348.21 L434.05,349.39 L435.05,350.56 L436.05,351.72 L437.05,352.87 L438.05,354.01 L439.05,355.13 L440.05,356.23 L441.05,357.33 L442.05,358.41 L443.05,359.47 L444.05,360.53 L445.05,361.57 L446.05,362.59 L447.05,363.61 L448.05,364.60 L449.05,365.59 L450.05,366.56 L451.05,367.52 L452.05,368.47 L453.05,369.40 L454.05,370.32 L455.05,371.22 L456.05,372.12 L457.05,372.99 L458.05,373.86 L459.05,374.71 L460.05,375.55 L461.05,376.38 L462.05,377.20 L463.05,378.00 L464.05,378.79 L465.05,379.57 L466.05,380.33 L467.05,381.08 L468.05,381.83 L469.05,382.55 L470.05,383.27 L471.05,383.98 L472.05,384.67 L473.05,385.35 L474.05,386.03 L475.05,386.69 L476.05,387.34 L477.05,387.98 L478.05,388.60 L479.05,389.22 L480.05,389.83 L481.05,390.43 L482.05,391.01 L483.05,391.59 L484.05,392.16 L485.05,392.71 L486.05,393.26 L487.05,393.80 L488.05,394.33 L489.05,394.85 L490.05,395.36 L491.05,395.86 L492.05,396.36 L493.05,396.84 L494.05,397.32 L495.05,397.78 L496.05,398.25 L497.05,398.70 L498.05,399.14 L499.05,399.58 L500.05,400.01 L501.05,400.43 L502.05,400.84 L503.05,401.25 L504.05,401.65 L505.05,402.04 L506.05,402.43 L507.05,402.81 L508.05,403.18 L509.05,403.54 L510.05,403.90 L511.05,404.26 L512.05,404.60 L513.05,404.95 L514.05,405.28 L515.05,405.61 L516.05,405.93 L517.05,406.25 L518.05,406.57 L519.05,406.87 L520.05,407.18 L521.05,407.47 L522.05,407.76 L523.05,408.05 L524.05,408.33 L525.05,408.61 L526.05,408.88 L527.05,409.15 L528.05,409.41 L529.05,409.67 L530.05,409.93 L531.05,410.18 L532.05,410.42 L533.05,410.66 L534.05,410.90 L535.05,411.14 L536.05,411.37 L537.05,411.59 L538.05,411.81 L539.05,412.03 L540.05,412.25 L541.05,412.46 L542.05,412.67 L543.05,412.87 L544.05,413.07 L545.05,413.27 L546.05,413.47 L547.05,413.66 L548.05,413.85 L549.05,414.03 L550.05,414.21 L551.05,414.39 L552.05,414.57 L553.05,414.74 L554.05,414.91 L555.05,415.08 L556.05,415.25 L557.05,415.41 L558.05,415.57 L559.05,415.73 L560.05,415.88 L561.05,416.04 L562.05,416.19 L562.70,416.28" stroke="#c8d82e"/>
<path d="M48.20,424.17 L49.20,424.12 L50.20,424.07 L51.20,424.01 L52.20,423.96 L53.20,423.90 L54.20,423.84 L55.20,423.78 L56.20,423.71 L57.20,423.65 L58.20,423.58 L59.20,423.50 L60.20,423.43 L61.20,423.35 L62.20,423.27 L63.20,423.18 L64.20,423.09 L65.20,423.00 L66.20,422.90 L67.20,422.80 L68.20,422.69 L69.20,422.57 L70.20,422.45 L71.20,422.32 L72.20,422.18 L73.20,422.04 L74.20,421.88 L75.20,421.70 L76.20,421.51 L77.20,421.30 L78.20,421.06 L79.20,420.80 L80.20,420.49 L80.35,420.44 L80.50,420.39 L80.65,420.34 L80.80,420.29 L80.95,420.24 L81.10,420.18 L81.25,420.13 L81.40,420.07 L81.55,420.01 L81.70,419.95 L81.85,419.89 L82.00,419.82 L82.15,419.76 L82.30,419.69 L82.45,419.62 L82.60,419.55 L82.75,419.48 L82.90,419.40 L83.05,419.33 L83.20,419.25 L83.35,419.17 L83.50,419.09 L83.65,419.00 L83.80,418.91 L83.95,418.82 L84.10,418.73 L84.25,418.63 L84.40,418.54 L84.55,418.43 L84.70,418.33 L84.85,418.22 L85.00,418.11 L85.15,418.00 L85.30,417.88 L85.45,417.76 L85.60,417.63 L85.75,417.50 L85.90,417.36 L86.05,417.22 L86.20,417.08 L86.35,416.93 L86.50,416.78 L86.65,416.62 L86.80,416.46 L86.95,416.29 L87.10,416.11 L87.25,415.93 L87.40,415.74 L87.55,415.55 L87.70,415.34 L87.85,415.14 L88.00,414.92 L88.15,414.70 L88.30,414.47 L88.45,414.23 L88.60,413.98 L88.75,413.76 L88.90,412.55 L89.05,411.35 L89.20,410.14 L89.35,408.94 L89.50,407.73 L89.65,406.53 L89.80,405.32 L89.95,404.12 L90.10,402.91 L90.25,401.71 L90.40,400.50 L90.55,394.31 L90.70,388.11 L90.85,381.92 L91.00,375.73 L91.15,351.71 L91.30,292.04 L91.45,275.17 L91.60,258.30 L91.75,241.43 L91.90,224.56 L92.05,207.04 L92.20,189.19 L92.35,171.34 L92.50,153.49 L92.65,144.00 L92.80,138.70 L92.95,133.40 L93.10,128.09 L93.25,122.79 L93.40,117.48 L93.55,112.18 L93.70,106.88 L93.85,102.26 L94.00,99.00 L94.15,95.75 L94.30,92.50 L94.45,89.25 L94.60,86.00 L94.75,89.25 L94.90,92.50 L95.05,95.75 L95.20,99.00 L95.35,102.26 L95.50,106.88 L95.65,112.18 L95.80,117.48 L95.95,122.79 L96.10,128.09 L96.25,133.40 L96.40,138.70 L96.55,144.00 L96.70,153.49 L96.85,171.34 L97.00,189.19 L97.15,207.04 L97.30,224.56 L97.45,241.43 L97.60,258.30 L97.75,275.17 L97.90,292.04 L98.05,351.71 L98.20,375.73 L98.35,381.92 L98.50,388.11 L98.65,394.31 L98.80,400.50 L98.95,401.71 L99.10,402.91 L99.25,404.12 L99.40,405.32 L99.55,406.53 L99.70,407.73 L99.85,408.94 L100.00,410.14 L100.15,411.35 L100.30,412.55 L100.45,413.73 L100.60,413.98 L100.75,414.23 L100.90,414.47 L101.05,414.70 L101.20,414.92 L101.35,415.14 L101.50,415.34 L101.65,415.55 L101.80,415.74 L101.95,415.93 L102.10,416.11 L102.25,416.29 L102.40,416.46 L102.55,416.62 L102.70,416.78 L102.85,416.93 L103.00,417.08 L103.15,417.22 L103.30,417.36 L103.45,417.50 L103.60,417.63 L103.75,417.76 L103.90,417.88 L104.05,418.00 L104.20,418.11 L104.35,418.22 L104.50,418.33 L104.65,418.43 L104.80,418.54 L104.95,418.63 L105.10,418.73 L105.25,418.82 L105.40,418.91 L105.55,419.00 L105.70,419.09 L105.85,419.17 L106.00,419.25 L106.15,419.33 L106.30,419.40 L106.45,419.48 L106.60,419.55 L106.75,419.62 L106.90,419.69 L107.05,419.76 L107.20,419.82 L107.35,419.89 L107.50,419.95 L107.65,420.01 L107.80,420.07 L107.95,420.13 L108.10,420.18 L108.25,420.24 L108.40,420.29 L108.55,420.34 L108.70,420.39 L108.85,420.44 L109.00,420.49 L109.15,420.54 L109.30,420.59 L109.45,420.64 L109.60,420.68 L109.75,420.73 L109.90,420.77 L110.05,420.81 L111.05,421.08 L112.05,421.31 L113.05,421.52 L114.05,421.71 L115.05,421.88 L116.05,422.04 L117.05,422.19 L118.05,422.33 L119.05,422.46 L120.05,422.58 L121.05,422.69 L122.05,422.80 L123.05,422.91 L124.05,423.00 L125.05,423.10 L126.05,423.19 L127.05,423.27 L128.05,423.35 L129.05,423.43 L130.05,423.51 L131.05,423.58 L132.05,423.65 L133.05,423.72 L134.05,423.78 L135.05,423.84 L136.05,423.90 L137.05,423.96 L138.05,424.02 L139.05,424.07 L140.05,424.12 L141.05,424.17 L142.05,424.22 L143.05,424.26 L144.05,424.31 L145.05,424.35 L146.05,424.39 L147.05,424.43 L148.05,424.47 L149.05,424.51 L150.05,424.54 L151.05,424.58 L152.05,424.61 L153.05,424.64 L154.05,424.67 L155.05,424.70 L156.05,424.72 L157.05,424.75 L158.05,424.77 L159.05,424.79 L160.05,424.81 L161.05,424.83 L162.05,424.85 L163.05,424.87 L164.05,424.88 L165.05,424.89 L166.05,424.90 L167.05,424.91 L168.05,424.92 L169.05,424.92 L170.05,424.93 L171.05,424.93 L172.05,424.92 L173.05,424.92 L174.05,424.91 L175.05,424.90 L176.05,424.88 L177.05,424.86 L178.05,424.84 L179.05,424.81 L180.05,424.78 L181.05,424.75 L182.05,424.71 L183.05,424.66 L184.05,424.61 L185.05,424.55 L186.05,424.49 L187.05,424.42 L188.05,424.34 L189.05,424.25 L190.05,424.16 L191.05,424.06 L192.05,423.95 L193.05,423.83 L194.05,423.69 L195.05,423.55 L196.05,423.40 L197.05,423.23 L198.05,423.05 L199.05,422.86 L200.05,422.66 L201.05,422.43 L202.05,422.20 L203.05,421.95 L204.05,421.68 L205.05,421.39 L206.05,421.08 L207.05,420.76 L208.05,420.41 L209.05,420.04 L210.05,419.65 L211.05,419.24 L212.05,418.81 L213.05,418.35 L214.05,417.86 L215.05,417.35 L216.05,416.81 L217.05,416.24 L218.05,415.65 L219.05,415.02 L220.05,414.37 L221.05,413.68 L222.05,412.97 L223.05,412.21 L224.05,411.43 L225.05,410.61 L226.05,409.76 L227.05,408.87 L228.05,407.94 L229.05,406.98 L230.05,405.98 L231.05,404.95 L232.05,403.87 L233.05,402.76 L234.05,401.60 L235.05,400.41 L236.05,399.18 L237.05,397.90 L238.05,396.59 L239.05,395.24 L240.05,393.85 L241.05,392.41 L242.05,390.94 L243.05,389.43 L244.05,387.87 L245.05,386.28 L246.05,384.65 L247.05,382.98 L248.05,381.27 L249.05,379.52 L250.05,377.73 L251.05,375.91 L252.05,374.06 L253.05,372.16 L254.05,370.24 L255.05,368.28 L256.05,366.29 L257.05,364.27 L258.05,362.22 L259.05,360.14 L260.05,358.03 L261.05,355.90 L262.05,353.74 L263.05,351.56 L264.05,349.36 L265.05,347.14 L266.05,344.90 L267.05,342.64 L268.05,340.37 L269.05,338.08 L270.05,335.79 L271.05,333.48 L272.05,331.17 L273.05,328.85 L274.05,326.52 L275.05,324.20 L276.05,321.87 L277.05,319.55 L278.05,317.22 L279.05,314.91 L280.05,312.60 L281.05,310.30 L282.05,308.02 L283.05,305.75 L284.05,303.49 L285.05,301.25 L286.05,299.03 L287.05,296.83 L288.05,294.65 L289.05,292.50 L290.05,290.37 L291.05,288.28 L292.05,286.21 L293.05,284.18 L294.05,282.17 L295.05,280.21 L296.05,278.28 L297.05,276.39 L298.05,274.53 L299.05,272.72 L300.05,270.95 L301.05,269.22 L302.05,267.54 L303.05,265.91 L304.05,264.32 L305.05,262.77 L306.05,261.28 L307.05,259.84 L308.05,258.44 L309.05,257.10 L310.05,255.81 L311.05,254.57 L312.05,253.39 L313.05,252.26 L314.05,251.18 L315.05,250.15 L316.05,249.18 L317.05,248.26 L318.05,247.40 L319.05,246.59 L320.05,245.84 L321.05,245.14 L322.05,244.49 L323.05,243.90 L324.05,243.36 L325.05,242.87 L326.05,242.43 L327.05,242.04 L328.05,241.71 L329.05,241.42 L330.05,241.18 L331.05,240.98 L332.05,240.83 L333.05,240.73 L334.05,240.67 L335.05,240.64 L336.05,240.64 L337.05,240.68 L338.05,240.74 L339.05,240.85 L340.05,240.99 L341.05,241.16 L342.05,241.38 L343.05,241.63 L344.05,241.91 L345.05,242.24 L346.05,242.60 L347.05,243.00 L348.05,243.43 L349.05,243.91 L350.05,244.41 L351.05,244.96 L352.05,245.54 L353.05,246.16 L354.05,246.81 L355.05,247.49 L356.05,248.21 L357.05,248.96 L358.05,249.75 L359.05,250.57 L360.05,251.42 L361.05,252.29 L362.05,253.20 L363.05,254.14 L364.05,255.11 L365.05,256.11 L366.05,257.13 L367.05,258.18 L368.05,259.25 L369.05,260.35 L370.05,261.48 L371.05,262.62 L372.05,263.79 L373.05,264.98 L374.05,266.20 L375.05,267.43 L376.05,268.68 L377.05,269.95 L378.05,271.23 L379.05,272.53 L380.05,273.85 L381.05,275.18 L382.05,276.53 L383.05,277.89 L384.05,279.26 L385.05,280.65 L386.05,282.04 L387.05,283.44 L388.05,284.85 L389.05,286.27 L390.05,287.70 L391.05,289.14 L392.05,290.58 L393.05,292.02 L394.05,293.47 L395.05,294.92 L396.05,296.38 L397.05,297.83 L398.05,299.29 L399.05,300.75 L400.05,302.21 L401.05,303.67 L402.05,305.13 L403.05,306.58 L404.05,308.04 L405.05,309.49 L406.05,310.93 L407.05,312.37 L408.05,313.81 L409.05,315.24 L410.05,316.67 L411.05,318.09 L412.05,319.50 L413.05,320.91 L414.05,322.31 L415.05,323.70 L416.05,325.08 L417.05,326.45 L418.05,327.82 L419.05,329.17 L420.05,330.52 L421.05,331.85 L422.05,333.18 L423.05,334.49 L424.05,335.79 L425.05,337.09 L426.05,338.37 L427.05,339.63 L428.05,340.89 L429.05,342.14 L430.05,343.37 L431.05,344.59 L432.05,345.80 L433.05,346.99 L434.05,348.17 L435.05,349.34 L436.05,350.50 L437.05,351.64 L438.05,352.77 L439.05,353.88 L440.05,354.99 L441.05,356.08 L442.05,357.15 L443.05,358.22 L444.05,359.26 L445.05,360.30 L446.05,361.32 L447.05,362.33 L448.05,363.33 L449.05,364.31 L450.05,365.28 L451.05,366.23 L452.05,367.18 L453.05,368.11 L454.05,369.02 L455.05,369.93 L456.05,370.82 L457.05,371.69 L458.05,372.56 L459.05,373.41 L460.05,374.25 L461.05,375.08 L462.05,375.89 L463.05,376.69 L464.05,377.48 L465.05,378.26 L466.05,379.03 L467.05,379.78 L468.05,380.53 L469.05,381.26 L470.05,381.98 L471.05,382.69 L472.05,383.38 L473.05,384.07 L474.05,384.74 L475.05,385.41 L476.05,386.06 L477.05,386.71 L478.05,387.34 L479.05,387.96 L480.05,388.58 L481.05,389.18 L482.05,389.77 L483.05,390.36 L484.05,390.93 L485.05,391.50 L486.05,392.05 L487.05,392.60 L488.05,393.13 L489.05,393.66 L490.05,394.18 L491.05,394.69 L492.05,395.20 L493.05,395.69 L494.05,396.18 L495.05,396.66 L496.05,397.13 L497.05,397.59 L498.05,398.05 L499.05,398.49 L500.05,398.93 L501.05,399.37 L502.05,399.79 L503.05,400.21 L504.05,400.62 L505.05,401.03 L506.05,401.43 L507.05,401.82 L508.05,402.20 L509.05,402.58 L510.05,402.96 L511.05,403.32 L512.05,403.68 L513.05,404.04 L514.05,404.39 L515.05,404.73 L516.05,405.07 L517.05,405.40 L518.05,405.73 L519.05,406.05 L520.05,406.36 L521.05,406.67 L522.05,406.98 L523.05,407.28 L524.05,407.58 L525.05,407.87 L526.05,408.15 L527.05,408.44 L528.05,408.71 L529.05,408.99 L530.05,409.26 L531.05,409.52 L532.05,409.78 L533.05,410.04 L534.05,410.29 L535.05,410.53 L536.05,410.78 L537.05,411.02 L538.05,411.25 L539.05,411.49 L540.05,411.72 L541.05,411.94 L542.05,412.16 L543.05,412.38 L544.05,412.59 L545.05,412.80 L546.05,413.01 L547.05,413.22 L548.05,413.42 L549.05,413.62 L550.05,413.81 L551.05,414.00 L552.05,414.19 L553.05,414.38 L554.05,414.56 L555.05,414.74 L556.05,414.92 L557.05,415.09 L558.05,415.26 L559.05,415.43 L560.05,415.60 L561.05,415.76 L562.05,415.93 L562.70,416.03" stroke="#ef8b1f"/>
<path d="M48.20,424.01 L49.20,423.96 L50.20,423.90 L51.20,423.84 L52.20,423.78 L53.20,423.72 L54.20,423.65 L55.20,423.58 L56.20,423.51 L57.20,423.44 L58.20,423.36 L59.20,423.28 L60.20,423.20 L61.20,423.12 L62.20,423.03 L63.20,422.93 L64.20,422.84 L65.20,422.73 L66.20,422.63 L67.20,422.51 L68.20,422.40 L69.20,422.27 L70.20,422.14 L71.20,422.00 L72.20,421.85 L73.20,421.69 L74.20,421.51 L75.20,421.32 L76.20,421.11 L77.20,420.88 L78.20,420.63 L79.20,420.34 L80.20,420.01 L80.35,419.95 L80.50,419.90 L80.65,419.84 L80.80,419.79 L80.95,419.73 L81.10,419.67 L81.25,419.61 L81.40,419.54 L81.55,419.48 L81.70,419.41 L81.85,419.35 L82.00,419.28 L82.15,419.21 L82.30,419.13 L82.45,419.06 L82.60,418.98 L82.75,418.90 L82.90,418.82 L83.05,418.74 L83.20,418.65 L83.35,418.57 L83.50,418.48 L83.65,418.38 L83.80,418.29 L83.95,418.19 L84.10,418.09 L84.25,417.98 L84.40,417.88 L84.55,417.77 L84.70,417.65 L84.85,417.54 L85.00,417.41 L85.15,417.29 L85.30,417.16 L85.45,417.03 L85.60,416.89 L85.75,416.75 L85.90,416.60 L86.05,416.45 L86.20,416.29 L86.35,416.13 L86.50,415.97 L86.65,415.79 L86.80,415.61 L86.95,415.43 L87.10,415.24 L87.25,415.04 L87.40,414.83 L87.55,414.62 L87.70,414.40 L87.85,414.18 L88.00,413.94 L88.15,413.70 L88.30,413.45 L88.45,413.19 L88.60,412.92 L88.75,412.68 L88.90,411.37 L89.05,410.06 L89.20,408.74 L89.35,407.43 L89.50,406.12 L89.65,404.81 L89.80,403.50 L89.95,402.19 L90.10,400.87 L90.25,399.56 L90.40,398.25 L90.55,391.51 L90.70,384.77 L90.85,378.03 L91.00,371.29 L91.15,345.15 L91.30,280.22 L91.45,261.86 L91.60,243.50 L91.75,225.15 L91.90,206.79 L92.05,187.72 L92.20,168.29 L92.35,148.87 L92.50,129.44 L92.65,119.12 L92.80,113.35 L92.95,107.58 L93.10,101.81 L93.25,96.03 L93.40,90.26 L93.55,84.49 L93.70,78.72 L93.85,73.69 L94.00,70.15 L94.15,66.61 L94.30,63.08 L94.45,59.54 L94.60,56.00 L94.75,59.54 L94.90,63.08 L95.05,66.61 L95.20,70.15 L95.35,73.69 L95.50,78.72 L95.65,84.49 L95.80,90.26 L95.95,96.03 L96.10,101.81 L96.25,107.58 L96.40,113.35 L96.55,119.12 L96.70,129.44 L96.85,148.87 L97.00,168.29 L97.15,187.72 L97.30,206.79 L97.45,225.15 L97.60,243.50 L97.75,261.86 L97.90,280.22 L98.05,345.15 L98.20,371.29 L98.35,378.03 L98.50,384.77 L98.65,391.51 L98.80,398.25 L98.95,399.56 L99.10,400.87 L99.25,402.19 L99.40,403.50 L99.55,404.81 L99.70,406.12 L99.85,407.43 L100.00,408.74 L100.15,410.06 L100.30,411.37 L100.45,412.64 L100.60,412.92 L100.75,413.19 L100.90,413.45 L101.05,413.70 L101.20,413.94 L101.35,414.18 L101.50,414.40 L101.65,414.62 L101.80,414.83 L101.95,415.04 L102.10,415.24 L102.25,415.43 L102.40,415.61 L102.55,415.79 L102.70,415.97 L102.85,416.13 L103.00,416.29 L103.15,416.45 L103.30,416.60 L103.45,416.75 L103.60,416.89 L103.75,417.03 L103.90,417.16 L104.05,417.29 L104.20,417.41 L104.35,417.54 L104.50,417.65 L104.65,417.77 L104.80,417.88 L104.95,417.98 L105.10,418.09 L105.25,418.19 L105.40,418.29 L105.55,418.38 L105.70,418.48 L105.85,418.57 L106.00,418.65 L106.15,418.74 L106.30,418.82 L106.45,418.90 L106.60,418.98 L106.75,419.06 L106.90,419.13 L107.05,419.21 L107.20,419.28 L107.35,419.35 L107.50,419.41 L107.65,419.48 L107.80,419.54 L107.95,419.61 L108.10,419.67 L108.25,419.73 L108.40,419.79 L108.55,419.84 L108.70,419.90 L108.85,419.95 L109.00,420.01 L109.15,420.06 L109.30,420.11 L109.45,420.16 L109.60,420.21 L109.75,420.26 L109.90,420.31 L110.05,420.35 L111.05,420.64 L112.05,420.90 L113.05,421.13 L114.05,421.33 L115.05,421.52 L116.05,421.69 L117.05,421.86 L118.05,422.01 L119.05,422.15 L120.05,422.28 L121.05,422.40 L122.05,422.52 L123.05,422.63 L124.05,422.74 L125.05,422.84 L126.05,422.94 L127.05,423.03 L128.05,423.12 L129.05,423.20 L130.05,423.29 L131.05,423.37 L132.05,423.44 L133.05,423.51 L134.05,423.59 L135.05,423.65 L136.05,423.72 L137.05,423.78 L138.05,423.84 L139.05,423.90 L140.05,423.96 L141.05,424.01 L142.05,424.06 L143.05,424.11 L144.05,424.16 L145.05,424.21 L146.05,424.25 L147.05,424.30 L148.05,424.34 L149.05,424.38 L150.05,424.42 L151.05,424.45 L152.05,424.49 L153.05,424.52 L154.05,424.56 L155.05,424.59 L156.05,424.62 L157.05,424.65 L158.05,424.67 L159.05,424.70 L160.05,424.72 L161.05,424.74 L162.05,424.76 L163.05,424.78 L164.05,424.80 L165.05,424.81 L166.05,424.82 L167.05,424.84 L168.05,424.84 L169.05,424.85 L170.05,424.85 L171.05,424.86 L172.05,424.85 L173.05,424.85 L174.05,424.84 L175.05,424.83 L176.05,424.82 L177.05,424.80 L178.05,424.77 L179.05,424.75 L180.05,424.71 L181.05,424.68 L182.05,424.64 L183.05,424.59 L184.05,424.53 L185.05,424.47 L186.05,424.40 L187.05,424.33 L188.05,424.24 L189.05,424.15 L190.05,424.05 L191.05,423.94 L192.05,423.82 L193.05,423.69 L194.05,423.54 L195.05,423.39 L196.05,423.22 L197.05,423.04 L198.05,422.84 L199.05,422.63 L200.05,422.40 L201.05,422.15 L202.05,421.89 L203.05,421.61 L204.05,421.31 L205.05,420.99 L206.05,420.65 L207.05,420.29 L208.05,419.91 L209.05,419.50 L210.05,419.07 L211.05,418.61 L212.05,418.12 L213.05,417.61 L214.05,417.07 L215.05,416.50 L216.05,415.91 L217.05,415.28 L218.05,414.61 L219.05,413.92 L220.05,413.19 L221.05,412.43 L222.05,411.64 L223.05,410.81 L224.05,409.94 L225.05,409.04 L226.05,408.10 L227.05,407.12 L228.05,406.10 L229.05,405.04 L230.05,403.94 L231.05,402.81 L232.05,401.63 L233.05,400.41 L234.05,399.16 L235.05,397.86 L236.05,396.52 L237.05,395.14 L238.05,393.72 L239.05,392.26 L240.05,390.75 L241.05,389.21 L242.05,387.63 L243.05,386.01 L244.05,384.35 L245.05,382.65 L246.05,380.91 L247.05,379.14 L248.05,377.33 L249.05,375.49 L250.05,373.61 L251.05,371.70 L252.05,369.75 L253.05,367.78 L254.05,365.77 L255.05,363.74 L256.05,361.68 L257.05,359.59 L258.05,357.48 L259.05,355.35 L260.05,353.19 L261.05,351.02 L262.05,348.83 L263.05,346.62 L264.05,344.40 L265.05,342.16 L266.05,339.91 L267.05,337.66 L268.05,335.40 L269.05,333.13 L270.05,330.86 L271.05,328.59 L272.05,326.32 L273.05,324.05 L274.05,321.78 L275.05,319.53 L276.05,317.28 L277.05,315.04 L278.05,312.81 L279.05,310.60 L280.05,308.41 L281.05,306.23 L282.05,304.07 L283.05,301.94 L284.05,299.82 L285.05,297.74 L286.05,295.68 L287.05,293.64 L288.05,291.64 L289.05,289.67 L290.05,287.74 L291.05,285.84 L292.05,283.97 L293.05,282.14 L294.05,280.36 L295.05,278.61 L296.05,276.90 L297.05,275.23 L298.05,273.61 L299.05,272.03 L300.05,270.50 L301.05,269.01 L302.05,267.57 L303.05,266.18 L304.05,264.83 L305.05,263.54 L306.05,262.29 L307.05,261.09 L308.05,259.94 L309.05,258.84 L310.05,257.80 L311.05,256.80 L312.05,255.85 L313.05,254.95 L314.05,254.10 L315.05,253.30 L316.05,252.55 L317.05,251.85 L318.05,251.20 L319.05,250.59 L320.05,250.03 L321.05,249.52 L322.05,249.06 L323.05,248.64 L324.05,248.27 L325.05,247.93 L326.05,247.64 L327.05,247.39 L328.05,247.18 L329.05,247.01 L330.05,246.88 L331.05,246.78 L332.05,246.71 L333.05,246.67 L334.05,246.65 L335.05,246.65 L336.05,246.68 L337.05,246.73 L338.05,246.81 L339.05,246.92 L340.05,247.06 L341.05,247.23 L342.05,247.44 L343.05,247.67 L344.05,247.94 L345.05,248.24 L346.05,248.58 L347.05,248.94 L348.05,249.35 L349.05,249.78 L350.05,250.25 L351.05,250.75 L352.05,251.29 L353.05,251.85 L354.05,252.46 L355.05,253.09 L356.05,253.75 L357.05,254.45 L358.05,255.18 L359.05,255.94 L360.05,256.73 L361.05,257.55 L362.05,258.40 L363.05,259.28 L364.05,260.19 L365.05,261.12 L366.05,262.09 L367.05,263.08 L368.05,264.09 L369.05,265.13 L370.05,266.20 L371.05,267.29 L372.05,268.40 L373.05,269.53 L374.05,270.69 L375.05,271.87 L376.05,273.06 L377.05,274.28 L378.05,275.52 L379.05,276.77 L380.05,278.04 L381.05,279.33 L382.05,280.63 L383.05,281.94 L384.05,283.27 L385.05,284.62 L386.05,285.97 L387.05,287.34 L388.05,288.71 L389.05,290.10 L390.05,291.50 L391.05,292.90 L392.05,294.31 L393.05,295.73 L394.05,297.15 L395.05,298.58 L396.05,300.01 L397.05,301.45 L398.05,302.89 L399.05,304.33 L400.05,305.77 L401.05,307.22 L402.05,308.66 L403.05,310.10 L404.05,311.54 L405.05,312.98 L406.05,314.42 L407.05,315.85 L408.05,317.28 L409.05,318.71 L410.05,320.13 L411.05,321.55 L412.05,322.96 L413.05,324.36 L414.05,325.76 L415.05,327.15 L416.05,328.53 L417.05,329.90 L418.05,331.27 L419.05,332.62 L420.05,333.97 L421.05,335.30 L422.05,336.63 L423.05,337.94 L424.05,339.25 L425.05,340.54 L426.05,341.82 L427.05,343.10 L428.05,344.35 L429.05,345.60 L430.05,346.83 L431.05,348.05 L432.05,349.26 L433.05,350.46 L434.05,351.64 L435.05,352.81 L436.05,353.97 L437.05,355.11 L438.05,356.24 L439.05,357.35 L440.05,358.45 L441.05,359.54 L442.05,360.61 L443.05,361.67 L444.05,362.72 L445.05,363.75 L446.05,364.77 L447.05,365.77 L448.05,366.76 L449.05,367.73 L450.05,368.69 L451.05,369.64 L452.05,370.57 L453.05,371.49 L454.05,372.40 L455.05,373.29 L456.05,374.17 L457.05,375.03 L458.05,375.88 L459.05,376.72 L460.05,377.55 L461.05,378.36 L462.05,379.16 L463.05,379.94 L464.05,380.72 L465.05,381.47 L466.05,382.22 L467.05,382.96 L468.05,383.68 L469.05,384.39 L470.05,385.09 L471.05,385.78 L472.05,386.45 L473.05,387.11 L474.05,387.77 L475.05,388.41 L476.05,389.04 L477.05,389.65 L478.05,390.26 L479.05,390.86 L480.05,391.44 L481.05,392.02 L482.05,392.59 L483.05,393.14 L484.05,393.69 L485.05,394.22 L486.05,394.75 L487.05,395.27 L488.05,395.78 L489.05,396.28 L490.05,396.77 L491.05,397.25 L492.05,397.72 L493.05,398.18 L494.05,398.64 L495.05,399.09 L496.05,399.53 L497.05,399.96 L498.05,400.38 L499.05,400.80 L500.05,401.21 L501.05,401.61 L502.05,402.00 L503.05,402.39 L504.05,402.77 L505.05,403.14 L506.05,403.51 L507.05,403.87 L508.05,404.22 L509.05,404.57 L510.05,404.91 L511.05,405.25 L512.05,405.58 L513.05,405.90 L514.05,406.22 L515.05,406.53 L516.05,406.84 L517.05,407.14 L518.05,407.44 L519.05,407.73 L520.05,408.02 L521.05,408.30 L522.05,408.57 L523.05,408.84 L524.05,409.11 L525.05,409.37 L526.05,409.63 L527.05,409.89 L528.05,410.13 L529.05,410.38 L530.05,410.62 L531.05,410.86 L532.05,411.09 L533.05,411.32 L534.05,411.54 L535.05,411.77 L536.05,411.98 L537.05,412.20 L538.05,412.41 L539.05,412.62 L540.05,412.82 L541.05,413.02 L542.05,413.22 L543.05,413.41 L544.05,413.60 L545.05,413.79 L546.05,413.98 L547.05,414.16 L548.05,414.34 L549.05,414.51 L550.05,414.69 L551.05,414.86 L552.05,415.02 L553.05,415.19 L554.05,415.35 L555.05,415.51 L556.05,415.67 L557.05,415.83 L558.05,415.98 L559.05,416.13 L560.05,416.28 L561.05,416.42 L562.05,416.57 L562.70,416.66" stroke="#e2381c"/>
</g>
<rect x="47.90" y="21.10" width="515.10" height="414.60" fill="none" stroke="#000" stroke-width="2.3" stroke-linejoin="miter"/>
<line x1="68.04" y1="435.70" x2="68.04" y2="440.00" stroke="#000" stroke-width="2.5" stroke-linecap="butt"/>
<line x1="102.90" y1="435.70" x2="102.90" y2="444.00" stroke="#000" stroke-width="2.5" stroke-linecap="butt"/>
<text transform="translate(102.90,476.30) scale(0.9700,1)" fill="#000" ><tspan x="-25.20" y="0.00" font-size="30.5">450</tspan></text>
<line x1="137.76" y1="435.70" x2="137.76" y2="440.00" stroke="#000" stroke-width="2.5" stroke-linecap="butt"/>
<line x1="172.62" y1="435.70" x2="172.62" y2="444.00" stroke="#000" stroke-width="2.5" stroke-linecap="butt"/>
<text transform="translate(172.62,476.30) scale(0.9700,1)" fill="#000" ><tspan x="-25.46" y="0.00" font-size="30.5">500</tspan></text>
<line x1="207.47" y1="435.70" x2="207.47" y2="440.00" stroke="#000" stroke-width="2.5" stroke-linecap="butt"/>
<line x1="242.33" y1="435.70" x2="242.33" y2="444.00" stroke="#000" stroke-width="2.5" stroke-linecap="butt"/>
<text transform="translate(242.33,476.30) scale(0.9700,1)" fill="#000" ><tspan x="-25.46" y="0.00" font-size="30.5">550</tspan></text>
<line x1="277.19" y1="435.70" x2="277.19" y2="440.00" stroke="#000" stroke-width="2.5" stroke-linecap="butt"/>
<line x1="312.05" y1="435.70" x2="312.05" y2="444.00" stroke="#000" stroke-width="2.5" stroke-linecap="butt"/>
<text transform="translate(312.05,476.30) scale(0.9700,1)" fill="#000" ><tspan x="-25.62" y="0.00" font-size="30.5">600</tspan></text>
<line x1="346.90" y1="435.70" x2="346.90" y2="440.00" stroke="#000" stroke-width="2.5" stroke-linecap="butt"/>
<line x1="381.76" y1="435.70" x2="381.76" y2="444.00" stroke="#000" stroke-width="2.5" stroke-linecap="butt"/>
<text transform="translate(381.76,476.30) scale(0.9700,1)" fill="#000" ><tspan x="-25.62" y="0.00" font-size="30.5">650</tspan></text>
<line x1="416.62" y1="435.70" x2="416.62" y2="440.00" stroke="#000" stroke-width="2.5" stroke-linecap="butt"/>
<line x1="451.48" y1="435.70" x2="451.48" y2="444.00" stroke="#000" stroke-width="2.5" stroke-linecap="butt"/>
<text transform="translate(451.48,476.30) scale(0.9700,1)" fill="#000" ><tspan x="-25.63" y="0.00" font-size="30.5">700</tspan></text>
<line x1="486.33" y1="435.70" x2="486.33" y2="440.00" stroke="#000" stroke-width="2.5" stroke-linecap="butt"/>
<line x1="521.19" y1="435.70" x2="521.19" y2="444.00" stroke="#000" stroke-width="2.5" stroke-linecap="butt"/>
<text transform="translate(521.19,476.30) scale(0.9700,1)" fill="#000" ><tspan x="-25.63" y="0.00" font-size="30.5">750</tspan></text>
<line x1="556.05" y1="435.70" x2="556.05" y2="440.00" stroke="#000" stroke-width="2.5" stroke-linecap="butt"/>
<line x1="111.00" y1="49.60" x2="168.10" y2="49.60" stroke="#5b3e9f" stroke-width="2.7" stroke-linecap="round"/>
<text transform="translate(181.80,59.90) scale(1.0451,1)" fill="#000" ><tspan x="-0.93" y="0.00" font-size="23.8">0.25 W mm</tspan><tspan x="120.73" y="-13.30" font-size="16">−2</tspan></text>
<line x1="344.60" y1="49.60" x2="401.30" y2="49.60" stroke="#2d46a1" stroke-width="2.7" stroke-linecap="round"/>
<text transform="translate(412.30,59.90) scale(1.0415,1)" fill="#000" ><tspan x="-0.93" y="0.00" font-size="23.8">0.50 W mm</tspan><tspan x="120.73" y="-13.30" font-size="16">−2</tspan></text>
<line x1="111.00" y1="84.30" x2="168.10" y2="84.30" stroke="#2c86c7" stroke-width="2.7" stroke-linecap="round"/>
<text transform="translate(181.80,94.60) scale(1.0518,1)" fill="#000" ><tspan x="-1.81" y="0.00" font-size="23.8">1.00 W mm</tspan><tspan x="119.85" y="-13.30" font-size="16">−2</tspan></text>
<line x1="344.60" y1="84.30" x2="401.30" y2="84.30" stroke="#62c2c9" stroke-width="2.7" stroke-linecap="round"/>
<text transform="translate(412.30,94.60) scale(1.0482,1)" fill="#000" ><tspan x="-1.81" y="0.00" font-size="23.8">1.50 W mm</tspan><tspan x="119.85" y="-13.30" font-size="16">−2</tspan></text>
<line x1="111.00" y1="119.10" x2="168.10" y2="119.10" stroke="#5db632" stroke-width="2.7" stroke-linecap="round"/>
<text transform="translate(181.80,129.40) scale(1.0471,1)" fill="#000" ><tspan x="-1.20" y="0.00" font-size="23.8">2.00 W mm</tspan><tspan x="120.46" y="-13.30" font-size="16">−2</tspan></text>
<line x1="344.60" y1="119.10" x2="401.30" y2="119.10" stroke="#c8d82e" stroke-width="2.7" stroke-linecap="round"/>
<text transform="translate(412.30,129.40) scale(1.0435,1)" fill="#000" ><tspan x="-1.20" y="0.00" font-size="23.8">2.50 W mm</tspan><tspan x="120.46" y="-13.30" font-size="16">−2</tspan></text>
<line x1="111.00" y1="153.70" x2="168.10" y2="153.70" stroke="#ef8b1f" stroke-width="2.7" stroke-linecap="round"/>
<text transform="translate(181.80,164.00) scale(1.0449,1)" fill="#000" ><tspan x="-0.91" y="0.00" font-size="23.8">3.00 W mm</tspan><tspan x="120.75" y="-13.30" font-size="16">−2</tspan></text>
<line x1="344.60" y1="153.70" x2="401.30" y2="153.70" stroke="#e2381c" stroke-width="2.7" stroke-linecap="round"/>
<text transform="translate(412.30,164.00) scale(1.0413,1)" fill="#000" ><tspan x="-0.91" y="0.00" font-size="23.8">3.50 W mm</tspan><tspan x="120.75" y="-13.30" font-size="16">−2</tspan></text>
<text transform="translate(116.10,242.40) scale(1.0539,1)" fill="#2a4fa3" ><tspan x="-1.97" y="0.00" font-size="24">Blue LD</tspan></text>
<text transform="translate(304.40,227.50) scale(1.0373,1)" fill="#d31a10" ><tspan x="-1.97" y="0.00" font-size="24">Mg</tspan><tspan x="31.37" y="7.80" font-size="16.5">2</tspan><tspan x="40.55" y="0.00" font-size="24">Al</tspan><tspan x="61.89" y="7.80" font-size="16.5">4</tspan><tspan x="71.06" y="0.00" font-size="24">Si</tspan><tspan x="92.40" y="7.80" font-size="16.5">5</tspan><tspan x="101.58" y="0.00" font-size="24">O</tspan><tspan x="120.25" y="7.80" font-size="16.5">18</tspan><tspan x="138.60" y="0.00" font-size="24">:Eu</tspan><tspan x="174.62" y="-11.50" font-size="16.5">2+</tspan></text>
<text transform="translate(196.60,518.20) scale(0.9728,1)" fill="#000" ><tspan x="-0.13" y="0.00" font-size="29.5">Wavelength (nm)</tspan></text>
<text transform="translate(24.30,328.60) rotate(-90) scale(0.9854,1)" fill="#000" ><tspan x="-2.72" y="0.00" font-size="29.5">Intensity (a.u.)</tspan></text>
<path d="M751.97,399.30 C757.14,393.33 772.62,376.22 782.95,363.50 C793.27,350.78 803.60,335.27 813.92,323.00 C824.25,310.73 834.57,301.20 844.90,289.90 C855.23,278.60 865.55,266.68 875.88,255.20 C886.20,243.72 896.52,231.35 906.85,221.00 C917.18,210.65 927.50,202.87 937.83,193.10 C948.15,183.33 958.47,171.37 968.80,162.40 C979.12,153.43 989.45,149.12 999.77,139.30 C1010.10,129.48 1020.42,111.48 1030.75,103.50 C1041.08,95.52 1051.40,96.35 1061.72,91.40 C1072.05,86.45 1082.38,78.12 1092.70,73.80 C1103.03,69.48 1113.35,66.52 1123.67,65.50 C1134.00,64.48 1144.33,67.15 1154.65,67.70 C1164.98,68.25 1175.30,65.22 1185.62,68.80 C1195.95,72.38 1211.44,85.80 1216.60,89.20" fill="none" stroke="#da251d" stroke-width="3"/>
<path d="M751.97,69.50 C757.14,69.43 772.62,70.13 782.95,69.10 C793.27,68.07 803.60,63.00 813.92,63.30 C824.25,63.60 834.57,69.05 844.90,70.90 C855.23,72.75 865.55,73.32 875.88,74.40 C886.20,75.48 896.52,75.00 906.85,77.40 C917.18,79.80 927.50,86.08 937.83,88.80 C948.15,91.52 958.47,90.82 968.80,93.70 C979.12,96.58 989.45,104.47 999.77,106.10 C1010.10,107.73 1020.42,100.77 1030.75,103.50 C1041.08,106.23 1051.40,117.35 1061.72,122.50 C1072.05,127.65 1082.38,130.07 1092.70,134.40 C1103.03,138.73 1113.35,141.85 1123.67,148.50 C1134.00,155.15 1144.33,167.47 1154.65,174.30 C1164.98,181.13 1175.30,182.02 1185.62,189.50 C1195.95,196.98 1211.44,214.25 1216.60,219.20" fill="none" stroke="#66c3cf" stroke-width="3"/>
<path d="M797.6,361.5 C801.5,352 797.5,340 787,332.5 C778,326 768,321.5 756,319.5" fill="none" stroke="#da251d" stroke-width="2.8"/>
<path d="M742.3,320.4 L757.8,312.4 L757.8,318.4 L759.8,322.6 Z" fill="#da251d" stroke="#da251d" stroke-width="1" stroke-linejoin="round"/>
<path d="M1174.3,190.5 C1173,178 1178,168 1187,161 C1196,154 1206,149.5 1217,145.5" fill="none" stroke="#66c3cf" stroke-width="2.8"/>
<path d="M1231.6,140.1 L1213.6,140.6 L1216.5,145.2 L1217.1,149.6 Z" fill="#66c3cf" stroke="#66c3cf" stroke-width="1" stroke-linejoin="round"/>
<circle cx="751.97" cy="399.30" r="6.5" fill="#e8641c"/>
<circle cx="749.97" cy="397.20" r="3.4" fill="url(#hl)"/>
<circle cx="751.97" cy="69.50" r="6.5" fill="#e8641c"/>
<circle cx="749.97" cy="67.40" r="3.4" fill="url(#hl)"/>
<circle cx="782.95" cy="363.50" r="6.5" fill="#ebe02c"/>
<circle cx="780.95" cy="361.40" r="3.4" fill="url(#hl)"/>
<circle cx="782.95" cy="69.10" r="6.5" fill="#ebe02c"/>
<circle cx="780.95" cy="67.00" r="3.4" fill="url(#hl)"/>
<circle cx="813.92" cy="323.00" r="6.5" fill="#5fb632"/>
<circle cx="811.92" cy="320.90" r="3.4" fill="url(#hl)"/>
<circle cx="813.92" cy="59.70" r="6.5" fill="#5fb632"/>
<circle cx="811.92" cy="57.60" r="3.4" fill="url(#hl)"/>
<circle cx="844.90" cy="289.90" r="6.5" fill="#2f79c3"/>
<circle cx="842.90" cy="287.80" r="3.4" fill="url(#hl)"/>
<circle cx="844.90" cy="70.90" r="6.5" fill="#2f79c3"/>
<circle cx="842.90" cy="68.80" r="3.4" fill="url(#hl)"/>
<circle cx="875.88" cy="255.20" r="6.5" fill="#3a45a3"/>
<circle cx="873.88" cy="253.10" r="3.4" fill="url(#hl)"/>
<circle cx="875.88" cy="74.40" r="6.5" fill="#3a45a3"/>
<circle cx="873.88" cy="72.30" r="3.4" fill="url(#hl)"/>
<circle cx="906.85" cy="221.00" r="6.5" fill="#6d3f9f"/>
<circle cx="904.85" cy="218.90" r="3.4" fill="url(#hl)"/>
<circle cx="906.85" cy="77.40" r="6.5" fill="#6d3f9f"/>
<circle cx="904.85" cy="75.30" r="3.4" fill="url(#hl)"/>
<circle cx="937.83" cy="193.10" r="6.5" fill="#d92a2a"/>
<circle cx="935.83" cy="191.00" r="3.4" fill="url(#hl)"/>
<circle cx="937.83" cy="88.80" r="6.5" fill="#d92a2a"/>
<circle cx="935.83" cy="86.70" r="3.4" fill="url(#hl)"/>
<circle cx="968.80" cy="162.40" r="6.5" fill="#e8641c"/>
<circle cx="966.80" cy="160.30" r="3.4" fill="url(#hl)"/>
<circle cx="968.80" cy="93.70" r="6.5" fill="#e8641c"/>
<circle cx="966.80" cy="91.60" r="3.4" fill="url(#hl)"/>
<circle cx="999.77" cy="139.30" r="6.5" fill="#ebe02c"/>
<circle cx="997.77" cy="137.20" r="3.4" fill="url(#hl)"/>
<circle cx="999.77" cy="106.10" r="6.5" fill="#ebe02c"/>
<circle cx="997.77" cy="104.00" r="3.4" fill="url(#hl)"/>
<circle cx="1030.75" cy="103.50" r="6.5" fill="#5fb632"/>
<circle cx="1028.75" cy="101.40" r="3.4" fill="url(#hl)"/>
<circle cx="1030.75" cy="103.50" r="6.5" fill="#5fb632"/>
<circle cx="1028.75" cy="101.40" r="3.4" fill="url(#hl)"/>
<circle cx="1061.72" cy="91.40" r="6.5" fill="#2f79c3"/>
<circle cx="1059.72" cy="89.30" r="3.4" fill="url(#hl)"/>
<circle cx="1061.72" cy="122.50" r="6.5" fill="#2f79c3"/>
<circle cx="1059.72" cy="120.40" r="3.4" fill="url(#hl)"/>
<circle cx="1092.70" cy="73.80" r="6.5" fill="#3a45a3"/>
<circle cx="1090.70" cy="71.70" r="3.4" fill="url(#hl)"/>
<circle cx="1092.70" cy="134.40" r="6.5" fill="#3a45a3"/>
<circle cx="1090.70" cy="132.30" r="3.4" fill="url(#hl)"/>
<circle cx="1123.67" cy="62.10" r="6.5" fill="#6d3f9f"/>
<circle cx="1121.67" cy="60.00" r="3.4" fill="url(#hl)"/>
<circle cx="1123.67" cy="148.50" r="6.5" fill="#6d3f9f"/>
<circle cx="1121.67" cy="146.40" r="3.4" fill="url(#hl)"/>
<circle cx="1154.65" cy="69.30" r="6.5" fill="#d92a2a"/>
<circle cx="1152.65" cy="67.20" r="3.4" fill="url(#hl)"/>
<circle cx="1154.65" cy="174.30" r="6.5" fill="#d92a2a"/>
<circle cx="1152.65" cy="172.20" r="3.4" fill="url(#hl)"/>
<circle cx="1185.62" cy="65.80" r="6.5" fill="#e8641c"/>
<circle cx="1183.62" cy="63.70" r="3.4" fill="url(#hl)"/>
<circle cx="1185.62" cy="189.50" r="6.5" fill="#e8641c"/>
<circle cx="1183.62" cy="187.40" r="3.4" fill="url(#hl)"/>
<circle cx="1216.60" cy="89.20" r="6.5" fill="#ebe02c"/>
<circle cx="1214.60" cy="87.10" r="3.4" fill="url(#hl)"/>
<circle cx="1216.60" cy="219.20" r="6.5" fill="#ebe02c"/>
<circle cx="1214.60" cy="217.10" r="3.4" fill="url(#hl)"/>
<rect x="733.10" y="27.20" width="508.70" height="409.00" fill="none" stroke="#000" stroke-width="2.8" stroke-linejoin="miter"/>
<line x1="724.80" y1="436.20" x2="733.10" y2="436.20" stroke="#000" stroke-width="2.5" stroke-linecap="butt"/>
<text transform="translate(712.60,446.00) scale(0.9700,1)" fill="#000" ><tspan x="-15.77" y="0.00" font-size="30.5">0</tspan></text>
<line x1="728.80" y1="402.12" x2="733.10" y2="402.12" stroke="#000" stroke-width="2.5" stroke-linecap="butt"/>
<line x1="724.80" y1="368.03" x2="733.10" y2="368.03" stroke="#000" stroke-width="2.5" stroke-linecap="butt"/>
<text transform="translate(712.60,377.83) scale(0.9700,1)" fill="#000" ><tspan x="-32.73" y="0.00" font-size="30.5">50</tspan></text>
<line x1="728.80" y1="333.95" x2="733.10" y2="333.95" stroke="#000" stroke-width="2.5" stroke-linecap="butt"/>
<line x1="724.80" y1="299.87" x2="733.10" y2="299.87" stroke="#000" stroke-width="2.5" stroke-linecap="butt"/>
<text transform="translate(712.60,309.67) scale(0.9700,1)" fill="#000" ><tspan x="-49.70" y="0.00" font-size="30.5">100</tspan></text>
<line x1="728.80" y1="265.78" x2="733.10" y2="265.78" stroke="#000" stroke-width="2.5" stroke-linecap="butt"/>
<line x1="724.80" y1="231.70" x2="733.10" y2="231.70" stroke="#000" stroke-width="2.5" stroke-linecap="butt"/>
<text transform="translate(712.60,241.50) scale(0.9700,1)" fill="#000" ><tspan x="-49.70" y="0.00" font-size="30.5">150</tspan></text>
<line x1="728.80" y1="197.62" x2="733.10" y2="197.62" stroke="#000" stroke-width="2.5" stroke-linecap="butt"/>
<line x1="724.80" y1="163.53" x2="733.10" y2="163.53" stroke="#000" stroke-width="2.5" stroke-linecap="butt"/>
<text transform="translate(712.60,173.33) scale(0.9700,1)" fill="#000" ><tspan x="-49.70" y="0.00" font-size="30.5">200</tspan></text>
<line x1="728.80" y1="129.45" x2="733.10" y2="129.45" stroke="#000" stroke-width="2.5" stroke-linecap="butt"/>
<line x1="724.80" y1="95.37" x2="733.10" y2="95.37" stroke="#000" stroke-width="2.5" stroke-linecap="butt"/>
<text transform="translate(712.60,105.17) scale(0.9700,1)" fill="#000" ><tspan x="-49.70" y="0.00" font-size="30.5">250</tspan></text>
<line x1="728.80" y1="61.28" x2="733.10" y2="61.28" stroke="#000" stroke-width="2.5" stroke-linecap="butt"/>
<line x1="724.80" y1="27.20" x2="733.10" y2="27.20" stroke="#000" stroke-width="2.5" stroke-linecap="butt"/>
<text transform="translate(712.60,37.00) scale(0.9700,1)" fill="#000" ><tspan x="-49.70" y="0.00" font-size="30.5">300</tspan></text>
<line x1="1241.80" y1="436.20" x2="1250.10" y2="436.20" stroke="#000" stroke-width="2.5" stroke-linecap="butt"/>
<text transform="translate(1262.80,446.00) scale(0.9700,1)" fill="#000" ><tspan x="-1.19" y="0.00" font-size="30.5">0</tspan></text>
<line x1="1241.80" y1="402.12" x2="1246.10" y2="402.12" stroke="#000" stroke-width="2.5" stroke-linecap="butt"/>
<line x1="1241.80" y1="368.03" x2="1250.10" y2="368.03" stroke="#000" stroke-width="2.5" stroke-linecap="butt"/>
<text transform="translate(1262.80,377.83) scale(0.9700,1)" fill="#000" ><tspan x="-2.32" y="0.00" font-size="30.5">10</tspan></text>
<line x1="1241.80" y1="333.95" x2="1246.10" y2="333.95" stroke="#000" stroke-width="2.5" stroke-linecap="butt"/>
<line x1="1241.80" y1="299.87" x2="1250.10" y2="299.87" stroke="#000" stroke-width="2.5" stroke-linecap="butt"/>
<text transform="translate(1262.80,309.67) scale(0.9700,1)" fill="#000" ><tspan x="-1.53" y="0.00" font-size="30.5">20</tspan></text>
<line x1="1241.80" y1="265.78" x2="1246.10" y2="265.78" stroke="#000" stroke-width="2.5" stroke-linecap="butt"/>
<line x1="1241.80" y1="231.70" x2="1250.10" y2="231.70" stroke="#000" stroke-width="2.5" stroke-linecap="butt"/>
<text transform="translate(1262.80,241.50) scale(0.9700,1)" fill="#000" ><tspan x="-1.16" y="0.00" font-size="30.5">30</tspan></text>
<line x1="1241.80" y1="197.62" x2="1246.10" y2="197.62" stroke="#000" stroke-width="2.5" stroke-linecap="butt"/>
<line x1="1241.80" y1="163.53" x2="1250.10" y2="163.53" stroke="#000" stroke-width="2.5" stroke-linecap="butt"/>
<text transform="translate(1262.80,173.33) scale(0.9700,1)" fill="#000" ><tspan x="-0.70" y="0.00" font-size="30.5">40</tspan></text>
<line x1="1241.80" y1="129.45" x2="1246.10" y2="129.45" stroke="#000" stroke-width="2.5" stroke-linecap="butt"/>
<line x1="1241.80" y1="95.37" x2="1250.10" y2="95.37" stroke="#000" stroke-width="2.5" stroke-linecap="butt"/>
<text transform="translate(1262.80,105.17) scale(0.9700,1)" fill="#000" ><tspan x="-1.22" y="0.00" font-size="30.5">50</tspan></text>
<line x1="1241.80" y1="61.28" x2="1246.10" y2="61.28" stroke="#000" stroke-width="2.5" stroke-linecap="butt"/>
<line x1="1241.80" y1="27.20" x2="1250.10" y2="27.20" stroke="#000" stroke-width="2.5" stroke-linecap="butt"/>
<text transform="translate(1262.80,37.00) scale(0.9700,1)" fill="#000" ><tspan x="-1.55" y="0.00" font-size="30.5">60</tspan></text>
<line x1="782.95" y1="436.20" x2="782.95" y2="440.50" stroke="#000" stroke-width="2.5" stroke-linecap="butt"/>
<line x1="844.90" y1="436.20" x2="844.90" y2="444.50" stroke="#000" stroke-width="2.5" stroke-linecap="butt"/>
<text transform="translate(844.90,476.30) scale(0.9700,1)" fill="#000" ><tspan x="-8.90" y="0.00" font-size="30.5">1</tspan></text>
<line x1="906.85" y1="436.20" x2="906.85" y2="440.50" stroke="#000" stroke-width="2.5" stroke-linecap="butt"/>
<line x1="968.80" y1="436.20" x2="968.80" y2="444.50" stroke="#000" stroke-width="2.5" stroke-linecap="butt"/>
<text transform="translate(968.80,476.30) scale(0.9700,1)" fill="#000" ><tspan x="-8.48" y="0.00" font-size="30.5">2</tspan></text>
<line x1="1030.75" y1="436.20" x2="1030.75" y2="440.50" stroke="#000" stroke-width="2.5" stroke-linecap="butt"/>
<line x1="1092.70" y1="436.20" x2="1092.70" y2="444.50" stroke="#000" stroke-width="2.5" stroke-linecap="butt"/>
<text transform="translate(1092.70,476.30) scale(0.9700,1)" fill="#000" ><tspan x="-8.39" y="0.00" font-size="30.5">3</tspan></text>
<line x1="1154.65" y1="436.20" x2="1154.65" y2="440.50" stroke="#000" stroke-width="2.5" stroke-linecap="butt"/>
<line x1="1216.60" y1="436.20" x2="1216.60" y2="444.50" stroke="#000" stroke-width="2.5" stroke-linecap="butt"/>
<text transform="translate(1216.60,476.30) scale(0.9700,1)" fill="#000" ><tspan x="-8.38" y="0.00" font-size="30.5">4</tspan></text>
<text transform="translate(966.60,299.60) scale(1.0290,1)" fill="#d31a10" ><tspan x="-1.97" y="0.00" font-size="24">Mg</tspan><tspan x="31.37" y="7.80" font-size="16.5">2</tspan><tspan x="40.55" y="0.00" font-size="24">Al</tspan><tspan x="61.89" y="7.80" font-size="16.5">4</tspan><tspan x="71.06" y="0.00" font-size="24">Si</tspan><tspan x="92.40" y="7.80" font-size="16.5">5</tspan><tspan x="101.58" y="0.00" font-size="24">O</tspan><tspan x="120.25" y="7.80" font-size="16.5">18</tspan><tspan x="138.60" y="0.00" font-size="24">:Eu</tspan><tspan x="174.62" y="-11.50" font-size="16.5">2+</tspan></text>
<text transform="translate(984.10,348.90) scale(1.0514,1)" fill="#d31a10" ><tspan x="-1.97" y="0.00" font-size="24">LF</tspan><tspan x="26.04" y="8.40" font-size="16.5">max.</tspan><tspan x="61.79" y="0.00" font-size="24"> = 274 lm</tspan></text>
<text transform="translate(984.10,395.90) scale(1.0283,1)" fill="#d31a10" ><tspan x="-1.97" y="0.00" font-size="24">LE</tspan><tspan x="27.39" y="7.90" font-size="16.5">max.</tspan><tspan x="63.14" y="0.00" font-size="24"> = 54 lm W</tspan><tspan x="178.50" y="-12.50" font-size="16">−1</tspan></text>
<text transform="translate(777.00,518.10) scale(0.9902,1)" fill="#000" ><tspan x="-2.72" y="0.00" font-size="29.5">Incident power density (W mm</tspan><tspan x="394.02" y="-12.10" font-size="19.5">−2</tspan><tspan x="416.25" y="0.00" font-size="29.5">)</tspan></text>
<text transform="translate(638.20,349.00) rotate(-90) scale(0.9973,1)" fill="#000" ><tspan x="-2.42" y="0.00" font-size="29.5">Luminous flux (lm)</tspan></text>
<text transform="translate(1337.70,416.00) rotate(-90) scale(0.9939,1)" fill="#000" ><tspan x="-2.42" y="0.00" font-size="29.5">Luminous efficiency (lm W</tspan><tspan x="341.84" y="-12.10" font-size="19.5">−1</tspan><tspan x="364.08" y="0.00" font-size="29.5">)</tspan></text>
<path d="M63.95,627.80 L69.01,627.20 L71.50,627.10 L77.53,627.10 L93.76,627.00 L110.00,627.00 L126.23,626.80 L142.46,626.80 L158.69,626.80 L174.92,626.80 L191.16,627.00 L207.39,626.80 L223.62,626.10 L239.85,626.00 L256.08,626.00 L272.32,626.00 L288.55,626.00 L304.78,625.60 L321.01,625.60 L337.24,626.00 L353.48,625.50 L369.71,629.50 L385.94,629.20 L418.40,624.50 L450.87,624.80 L483.33,622.40 L515.80,621.70 L548.26,620.90" fill="none" stroke="#ee8222" stroke-width="2.8" stroke-linejoin="round"/>
<rect x="58.05" y="621.90" width="11.8" height="11.8" fill="#e0393e"/>
<rect x="63.11" y="621.30" width="11.8" height="11.8" fill="#2e64b0"/>
<rect x="65.60" y="621.20" width="11.8" height="11.8" fill="#35a367"/>
<rect x="71.63" y="621.20" width="11.8" height="11.8" fill="#9b72b9"/>
<rect x="87.86" y="621.10" width="11.8" height="11.8" fill="#c8951a"/>
<rect x="104.10" y="621.10" width="11.8" height="11.8" fill="#33b6bf"/>
<rect x="120.33" y="620.90" width="11.8" height="11.8" fill="#7b4b4b"/>
<rect x="136.56" y="620.90" width="11.8" height="11.8" fill="#8a8b2e"/>
<rect x="152.79" y="620.90" width="11.8" height="11.8" fill="#e8651e"/>
<rect x="169.02" y="620.90" width="11.8" height="11.8" fill="#6594c6"/>
<rect x="185.26" y="621.10" width="11.8" height="11.8" fill="#63b22f"/>
<rect x="201.49" y="620.90" width="11.8" height="11.8" fill="#4d4d4d"/>
<rect x="217.72" y="620.20" width="11.8" height="11.8" fill="#e0393e"/>
<rect x="233.95" y="620.10" width="11.8" height="11.8" fill="#2e64b0"/>
<rect x="250.18" y="620.10" width="11.8" height="11.8" fill="#35a367"/>
<rect x="266.42" y="620.10" width="11.8" height="11.8" fill="#9b72b9"/>
<rect x="282.65" y="620.10" width="11.8" height="11.8" fill="#c8951a"/>
<rect x="298.88" y="619.70" width="11.8" height="11.8" fill="#33b6bf"/>
<rect x="315.11" y="619.70" width="11.8" height="11.8" fill="#7b4b4b"/>
<rect x="331.34" y="620.10" width="11.8" height="11.8" fill="#8a8b2e"/>
<rect x="347.58" y="619.60" width="11.8" height="11.8" fill="#e8651e"/>
<rect x="363.81" y="623.60" width="11.8" height="11.8" fill="#6594c6"/>
<rect x="380.04" y="623.30" width="11.8" height="11.8" fill="#63b22f"/>
<rect x="412.50" y="618.60" width="11.8" height="11.8" fill="#4d4d4d"/>
<rect x="444.97" y="618.90" width="11.8" height="11.8" fill="#e0393e"/>
<rect x="477.43" y="616.50" width="11.8" height="11.8" fill="#2e64b0"/>
<rect x="509.90" y="615.80" width="11.8" height="11.8" fill="#35a367"/>
<rect x="542.36" y="615.00" width="11.8" height="11.8" fill="#9b72b9"/>
<rect x="47.90" y="601.00" width="513.80" height="414.50" fill="none" stroke="#000" stroke-width="2.3" stroke-linejoin="miter"/>
<line x1="61.30" y1="1015.50" x2="61.30" y2="1023.80" stroke="#000" stroke-width="2.5" stroke-linecap="butt"/>
<text transform="translate(61.30,1056.00) scale(0.9700,1)" fill="#000" ><tspan x="-8.48" y="0.00" font-size="30.5">0</tspan></text>
<line x1="101.88" y1="1015.50" x2="101.88" y2="1019.80" stroke="#000" stroke-width="2.5" stroke-linecap="butt"/>
<line x1="142.46" y1="1015.50" x2="142.46" y2="1023.80" stroke="#000" stroke-width="2.5" stroke-linecap="butt"/>
<text transform="translate(142.46,1056.00) scale(0.9700,1)" fill="#000" ><tspan x="-25.43" y="0.00" font-size="30.5">300</tspan></text>
<line x1="183.04" y1="1015.50" x2="183.04" y2="1019.80" stroke="#000" stroke-width="2.5" stroke-linecap="butt"/>
<line x1="223.62" y1="1015.50" x2="223.62" y2="1023.80" stroke="#000" stroke-width="2.5" stroke-linecap="butt"/>
<text transform="translate(223.62,1056.00) scale(0.9700,1)" fill="#000" ><tspan x="-25.62" y="0.00" font-size="30.5">600</tspan></text>
<line x1="264.20" y1="1015.50" x2="264.20" y2="1019.80" stroke="#000" stroke-width="2.5" stroke-linecap="butt"/>
<line x1="304.78" y1="1015.50" x2="304.78" y2="1023.80" stroke="#000" stroke-width="2.5" stroke-linecap="butt"/>
<text transform="translate(304.78,1056.00) scale(0.9700,1)" fill="#000" ><tspan x="-25.56" y="0.00" font-size="30.5">900</tspan></text>
<line x1="345.36" y1="1015.50" x2="345.36" y2="1019.80" stroke="#000" stroke-width="2.5" stroke-linecap="butt"/>
<line x1="385.94" y1="1015.50" x2="385.94" y2="1023.80" stroke="#000" stroke-width="2.5" stroke-linecap="butt"/>
<text transform="translate(385.94,1056.00) scale(0.9700,1)" fill="#000" ><tspan x="-34.49" y="0.00" font-size="30.5">1200</tspan></text>
<line x1="426.52" y1="1015.50" x2="426.52" y2="1019.80" stroke="#000" stroke-width="2.5" stroke-linecap="butt"/>
<line x1="467.10" y1="1015.50" x2="467.10" y2="1023.80" stroke="#000" stroke-width="2.5" stroke-linecap="butt"/>
<text transform="translate(467.10,1056.00) scale(0.9700,1)" fill="#000" ><tspan x="-34.49" y="0.00" font-size="30.5">1500</tspan></text>
<line x1="507.68" y1="1015.50" x2="507.68" y2="1019.80" stroke="#000" stroke-width="2.5" stroke-linecap="butt"/>
<line x1="548.26" y1="1015.50" x2="548.26" y2="1023.80" stroke="#000" stroke-width="2.5" stroke-linecap="butt"/>
<text transform="translate(548.26,1056.00) scale(0.9700,1)" fill="#000" ><tspan x="-34.49" y="0.00" font-size="30.5">1800</tspan></text>
<text transform="translate(252.20,1097.20) scale(0.9758,1)" fill="#000" ><tspan x="-0.66" y="0.00" font-size="29.5">Time (s)</tspan></text>
<text transform="translate(24.30,898.40) rotate(-90) scale(0.9849,1)" fill="#000" ><tspan x="-2.72" y="0.00" font-size="29.5">Intensity (a.u.)</tspan></text>
<text transform="translate(62.40,726.10) scale(1.0311,1)" fill="#d31a10" ><tspan x="-1.97" y="0.00" font-size="24">Power density = 1.5 W mm</tspan><tspan x="285.46" y="-12.80" font-size="16">−2</tspan></text>
<text transform="translate(78.90,790.20) scale(1.0357,1)" fill="#d31a10" ><tspan x="-1.97" y="0.00" font-size="24">Mg</tspan><tspan x="31.37" y="7.80" font-size="16.5">2</tspan><tspan x="40.55" y="0.00" font-size="24">Al</tspan><tspan x="61.89" y="7.80" font-size="16.5">4</tspan><tspan x="71.06" y="0.00" font-size="24">Si</tspan><tspan x="92.40" y="7.80" font-size="16.5">5</tspan><tspan x="101.58" y="0.00" font-size="24">O</tspan><tspan x="120.25" y="7.80" font-size="16.5">18</tspan><tspan x="138.60" y="0.00" font-size="24">:Eu</tspan><tspan x="174.62" y="-11.50" font-size="16.5">2+</tspan></text>
<text transform="translate(102.90,859.60) scale(1.0564,1)" fill="#d31a10" ><tspan x="-1.09" y="0.00" font-size="24" style="font-style:italic">t</tspan><tspan x="5.58" y="0.00" font-size="24"> = 10–1800 s</tspan></text>
<line x1="63.40" y1="911.20" x2="122.30" y2="911.20" stroke="#ee8222" stroke-width="2.8" stroke-linecap="butt"/>
<rect x="87.1" y="905.4" width="11.8" height="11.8" fill="#e0393e"/>
<text transform="translate(136.00,919.20) scale(1.0387,1)" fill="#d31a10" ><tspan x="-1.97" y="0.00" font-size="24">Luminous flux</tspan></text>
<rect x="401.1" y="831.9" width="125.9" height="127.8" fill="url(#glow)"/>
<circle cx="460.7" cy="891.7" r="13.5" fill="url(#core)"/>
<g clip-path="url(#clipp1)">
<rect x="401.1" y="697" width="123.9" height="124.4" fill="url(#bgp)"/>
<ellipse cx="500" cy="810" rx="40" ry="22" fill="url(#brpatch)"/>
<ellipse cx="450" cy="705" rx="50" ry="10" fill="url(#brpatch)" opacity="0.6"/>
<rect x="513.8" y="697" width="11.5" height="124.4" fill="#35373c"/>
<line x1="513.2" y1="697" x2="513.2" y2="821.4" stroke="#0c0c0e" stroke-width="1.6"/>
<rect x="419" y="753" width="14" height="25" fill="#8c8e96"/>
<rect x="419" y="775" width="14" height="3" fill="#b8b49a"/>
<ellipse cx="414.3" cy="763.6" rx="12.3" ry="13.6" fill="url(#knob)" stroke="#5a3a26" stroke-width="1.2"/>
<path d="M503,780 Q514,782 526,785" stroke="#d6d6d6" stroke-width="1.6" fill="none"/>
<circle cx="468.4" cy="760.1" r="39.8" fill="url(#disc)"/>
<circle cx="467.6" cy="760.6" r="20.2" fill="#a9a7a5" stroke="#8a8886" stroke-width="0.8"/>
<circle cx="467.6" cy="760.6" r="17.8" fill="#bab8b6"/>
<circle cx="467.6" cy="760.6" r="16.4" fill="#8c8a88"/>
<circle cx="467.6" cy="760.6" r="15.6" fill="#b2b0ad"/>
<circle cx="467.8" cy="760.6" r="12.4" fill="#b8a838"/>
<circle cx="468.2" cy="761.2" r="11.3" fill="url(#lens)"/>
<circle cx="455.1" cy="746.9" r="1.1" fill="#3a3a3a"/>
<circle cx="474.4" cy="746.9" r="1.1" fill="#3a3a3a"/>
<circle cx="460.8" cy="772.8" r="1.1" fill="#3a3a3a"/>
<circle cx="482.9" cy="771.9" r="1.1" fill="#3a3a3a"/>
</g>
<path d="M759.40,963.40 C768.28,954.72 795.63,928.37 812.70,911.30 C829.77,894.23 845.07,878.58 861.80,861.00 C878.53,843.42 896.13,823.13 913.10,805.80 C930.07,788.47 946.63,773.15 963.60,757.00 C980.57,740.85 997.68,722.08 1014.90,708.90 C1032.12,695.72 1049.38,684.50 1066.90,677.90 C1084.42,671.30 1103.28,670.20 1120.00,669.30 C1136.72,668.40 1150.65,671.90 1167.20,672.50 C1183.75,673.10 1210.62,672.83 1219.30,672.90" fill="none" stroke="#da251d" stroke-width="3"/>
<path d="M759.40,672.10 C768.28,670.37 795.63,663.43 812.70,661.70 C829.77,659.97 845.07,661.70 861.80,661.70 C878.53,661.70 896.13,661.17 913.10,661.70 C930.07,662.23 946.63,662.92 963.60,664.90 C980.57,666.88 997.68,669.45 1014.90,673.60 C1032.12,677.75 1049.38,679.68 1066.90,689.80 C1084.42,699.92 1103.28,720.38 1120.00,734.30 C1136.72,748.22 1150.65,763.08 1167.20,773.30 C1183.75,783.52 1210.62,791.88 1219.30,795.60" fill="none" stroke="#66c3cf" stroke-width="3"/>
<path d="M779.3,954.5 C785,943 781,933 773.5,928 C767,924 761,923 753,922.8" fill="none" stroke="#da251d" stroke-width="2.8"/>
<path d="M736.5,924.5 L752.6,916.6 L752.8,922.2 L754.5,926.5 Z" fill="#da251d" stroke="#da251d" stroke-width="1" stroke-linejoin="round"/>
<path d="M1200.2,795 C1196,784 1195,774 1200,767 C1206,759 1213,756 1224,752.6" fill="none" stroke="#66c3cf" stroke-width="2.8"/>
<path d="M1240.4,750.9 L1222,747.4 L1223.6,752.5 L1223.1,757.8 Z" fill="#66c3cf" stroke="#66c3cf" stroke-width="1" stroke-linejoin="round"/>
<circle cx="759.40" cy="963.40" r="6.7" fill="#e0464a"/>
<circle cx="757.40" cy="961.30" r="3.4" fill="url(#hl)"/>
<circle cx="759.40" cy="672.10" r="6.7" fill="#e0464a"/>
<circle cx="757.40" cy="670.00" r="3.4" fill="url(#hl)"/>
<circle cx="812.70" cy="911.30" r="6.7" fill="#2e64b2"/>
<circle cx="810.70" cy="909.20" r="3.4" fill="url(#hl)"/>
<circle cx="812.70" cy="661.70" r="6.7" fill="#2e64b2"/>
<circle cx="810.70" cy="659.60" r="3.4" fill="url(#hl)"/>
<circle cx="861.80" cy="861.00" r="6.7" fill="#38a468"/>
<circle cx="859.80" cy="858.90" r="3.4" fill="url(#hl)"/>
<circle cx="861.80" cy="661.70" r="6.7" fill="#38a468"/>
<circle cx="859.80" cy="659.60" r="3.4" fill="url(#hl)"/>
<circle cx="913.10" cy="805.80" r="6.7" fill="#9c7abd"/>
<circle cx="911.10" cy="803.70" r="3.4" fill="url(#hl)"/>
<circle cx="913.10" cy="661.70" r="6.7" fill="#9c7abd"/>
<circle cx="911.10" cy="659.60" r="3.4" fill="url(#hl)"/>
<circle cx="963.60" cy="757.00" r="6.7" fill="#c8961c"/>
<circle cx="961.60" cy="754.90" r="3.4" fill="url(#hl)"/>
<circle cx="963.60" cy="664.90" r="6.7" fill="#c8961c"/>
<circle cx="961.60" cy="662.80" r="3.4" fill="url(#hl)"/>
<circle cx="1014.90" cy="708.90" r="6.7" fill="#33b5bd"/>
<circle cx="1012.90" cy="706.80" r="3.4" fill="url(#hl)"/>
<circle cx="1014.90" cy="673.60" r="6.7" fill="#33b5bd"/>
<circle cx="1012.90" cy="671.50" r="3.4" fill="url(#hl)"/>
<circle cx="1066.90" cy="672.50" r="6.7" fill="#7a4b4d"/>
<circle cx="1064.90" cy="670.40" r="3.4" fill="url(#hl)"/>
<circle cx="1066.90" cy="689.80" r="6.7" fill="#7a4b4d"/>
<circle cx="1064.90" cy="687.70" r="3.4" fill="url(#hl)"/>
<circle cx="1120.00" cy="669.30" r="6.7" fill="#8b8b2d"/>
<circle cx="1118.00" cy="667.20" r="3.4" fill="url(#hl)"/>
<circle cx="1120.00" cy="734.30" r="6.7" fill="#8b8b2d"/>
<circle cx="1118.00" cy="732.20" r="3.4" fill="url(#hl)"/>
<circle cx="1167.20" cy="672.50" r="6.7" fill="#e8661d"/>
<circle cx="1165.20" cy="670.40" r="3.4" fill="url(#hl)"/>
<circle cx="1167.20" cy="773.30" r="6.7" fill="#e8661d"/>
<circle cx="1165.20" cy="771.20" r="3.4" fill="url(#hl)"/>
<circle cx="1219.30" cy="672.90" r="6.7" fill="#6b97c9"/>
<circle cx="1217.30" cy="670.80" r="3.4" fill="url(#hl)"/>
<circle cx="1219.30" cy="795.60" r="6.7" fill="#6b97c9"/>
<circle cx="1217.30" cy="793.50" r="3.4" fill="url(#hl)"/>
<rect x="733.30" y="593.80" width="522.90" height="421.50" fill="none" stroke="#000" stroke-width="2.8" stroke-linejoin="miter"/>
<line x1="725.00" y1="1015.30" x2="733.30" y2="1015.30" stroke="#000" stroke-width="2.5" stroke-linecap="butt"/>
<text transform="translate(712.60,1025.10) scale(0.9700,1)" fill="#000" ><tspan x="-15.77" y="0.00" font-size="30.5">0</tspan></text>
<line x1="729.00" y1="973.15" x2="733.30" y2="973.15" stroke="#000" stroke-width="2.5" stroke-linecap="butt"/>
<line x1="725.00" y1="931.00" x2="733.30" y2="931.00" stroke="#000" stroke-width="2.5" stroke-linecap="butt"/>
<text transform="translate(712.60,940.80) scale(0.9700,1)" fill="#000" ><tspan x="-32.73" y="0.00" font-size="30.5">50</tspan></text>
<line x1="729.00" y1="888.85" x2="733.30" y2="888.85" stroke="#000" stroke-width="2.5" stroke-linecap="butt"/>
<line x1="725.00" y1="846.70" x2="733.30" y2="846.70" stroke="#000" stroke-width="2.5" stroke-linecap="butt"/>
<text transform="translate(712.60,856.50) scale(0.9700,1)" fill="#000" ><tspan x="-49.70" y="0.00" font-size="30.5">100</tspan></text>
<line x1="729.00" y1="804.55" x2="733.30" y2="804.55" stroke="#000" stroke-width="2.5" stroke-linecap="butt"/>
<line x1="725.00" y1="762.40" x2="733.30" y2="762.40" stroke="#000" stroke-width="2.5" stroke-linecap="butt"/>
<text transform="translate(712.60,772.20) scale(0.9700,1)" fill="#000" ><tspan x="-49.70" y="0.00" font-size="30.5">150</tspan></text>
<line x1="729.00" y1="720.25" x2="733.30" y2="720.25" stroke="#000" stroke-width="2.5" stroke-linecap="butt"/>
<line x1="725.00" y1="678.10" x2="733.30" y2="678.10" stroke="#000" stroke-width="2.5" stroke-linecap="butt"/>
<text transform="translate(712.60,687.90) scale(0.9700,1)" fill="#000" ><tspan x="-49.70" y="0.00" font-size="30.5">200</tspan></text>
<line x1="729.00" y1="635.95" x2="733.30" y2="635.95" stroke="#000" stroke-width="2.5" stroke-linecap="butt"/>
<line x1="725.00" y1="593.80" x2="733.30" y2="593.80" stroke="#000" stroke-width="2.5" stroke-linecap="butt"/>
<text transform="translate(712.60,603.60) scale(0.9700,1)" fill="#000" ><tspan x="-49.70" y="0.00" font-size="30.5">250</tspan></text>
<line x1="1256.20" y1="1015.30" x2="1264.50" y2="1015.30" stroke="#000" stroke-width="2.5" stroke-linecap="butt"/>
<text transform="translate(1276.50,1025.10) scale(0.9700,1)" fill="#000" ><tspan x="-1.19" y="0.00" font-size="30.5">0</tspan></text>
<line x1="1256.20" y1="973.15" x2="1260.50" y2="973.15" stroke="#000" stroke-width="2.5" stroke-linecap="butt"/>
<line x1="1256.20" y1="931.00" x2="1264.50" y2="931.00" stroke="#000" stroke-width="2.5" stroke-linecap="butt"/>
<text transform="translate(1276.50,940.80) scale(0.9700,1)" fill="#000" ><tspan x="-2.32" y="0.00" font-size="30.5">10</tspan></text>
<line x1="1256.20" y1="888.85" x2="1260.50" y2="888.85" stroke="#000" stroke-width="2.5" stroke-linecap="butt"/>
<line x1="1256.20" y1="846.70" x2="1264.50" y2="846.70" stroke="#000" stroke-width="2.5" stroke-linecap="butt"/>
<text transform="translate(1276.50,856.50) scale(0.9700,1)" fill="#000" ><tspan x="-1.53" y="0.00" font-size="30.5">20</tspan></text>
<line x1="1256.20" y1="804.55" x2="1260.50" y2="804.55" stroke="#000" stroke-width="2.5" stroke-linecap="butt"/>
<line x1="1256.20" y1="762.40" x2="1264.50" y2="762.40" stroke="#000" stroke-width="2.5" stroke-linecap="butt"/>
<text transform="translate(1276.50,772.20) scale(0.9700,1)" fill="#000" ><tspan x="-1.16" y="0.00" font-size="30.5">30</tspan></text>
<line x1="1256.20" y1="720.25" x2="1260.50" y2="720.25" stroke="#000" stroke-width="2.5" stroke-linecap="butt"/>
<line x1="1256.20" y1="678.10" x2="1264.50" y2="678.10" stroke="#000" stroke-width="2.5" stroke-linecap="butt"/>
<text transform="translate(1276.50,687.90) scale(0.9700,1)" fill="#000" ><tspan x="-0.70" y="0.00" font-size="30.5">40</tspan></text>
<line x1="1256.20" y1="635.95" x2="1260.50" y2="635.95" stroke="#000" stroke-width="2.5" stroke-linecap="butt"/>
<line x1="1256.20" y1="593.80" x2="1264.50" y2="593.80" stroke="#000" stroke-width="2.5" stroke-linecap="butt"/>
<text transform="translate(1276.50,603.60) scale(0.9700,1)" fill="#000" ><tspan x="-1.22" y="0.00" font-size="30.5">50</tspan></text>
<line x1="769.10" y1="1015.30" x2="769.10" y2="1019.60" stroke="#000" stroke-width="2.5" stroke-linecap="butt"/>
<line x1="828.30" y1="1015.30" x2="828.30" y2="1023.60" stroke="#000" stroke-width="2.5" stroke-linecap="butt"/>
<text transform="translate(828.30,1056.00) scale(0.9700,1)" fill="#000" ><tspan x="-21.15" y="0.00" font-size="30.5">0.5</tspan></text>
<line x1="887.50" y1="1015.30" x2="887.50" y2="1019.60" stroke="#000" stroke-width="2.5" stroke-linecap="butt"/>
<line x1="946.70" y1="1015.30" x2="946.70" y2="1023.60" stroke="#000" stroke-width="2.5" stroke-linecap="butt"/>
<text transform="translate(946.70,1056.00) scale(0.9700,1)" fill="#000" ><tspan x="-21.77" y="0.00" font-size="30.5">1.0</tspan></text>
<line x1="1005.90" y1="1015.30" x2="1005.90" y2="1019.60" stroke="#000" stroke-width="2.5" stroke-linecap="butt"/>
<line x1="1065.10" y1="1015.30" x2="1065.10" y2="1023.60" stroke="#000" stroke-width="2.5" stroke-linecap="butt"/>
<text transform="translate(1065.10,1056.00) scale(0.9700,1)" fill="#000" ><tspan x="-21.72" y="0.00" font-size="30.5">1.5</tspan></text>
<line x1="1124.30" y1="1015.30" x2="1124.30" y2="1019.60" stroke="#000" stroke-width="2.5" stroke-linecap="butt"/>
<line x1="1183.50" y1="1015.30" x2="1183.50" y2="1023.60" stroke="#000" stroke-width="2.5" stroke-linecap="butt"/>
<text transform="translate(1183.50,1056.00) scale(0.9700,1)" fill="#000" ><tspan x="-21.37" y="0.00" font-size="30.5">2.0</tspan></text>
<line x1="1242.70" y1="1015.30" x2="1242.70" y2="1019.60" stroke="#000" stroke-width="2.5" stroke-linecap="butt"/>
<text transform="translate(945.00,866.40) scale(1.0405,1)" fill="#d31a10" ><tspan x="-1.22" y="0.00" font-size="24">CaAlSiN</tspan><tspan x="89.47" y="7.80" font-size="16.5">3</tspan><tspan x="98.65" y="0.00" font-size="24">:Eu</tspan><tspan x="134.67" y="-11.50" font-size="16.5">2+</tspan><tspan x="153.48" y="0.00" font-size="24"> ceramic</tspan></text>
<text transform="translate(978.80,914.50) scale(1.0466,1)" fill="#d31a10" ><tspan x="-1.97" y="0.00" font-size="24">LF</tspan><tspan x="26.04" y="8.40" font-size="16.5">max.</tspan><tspan x="61.79" y="0.00" font-size="24"> = ~203 lm</tspan></text>
<text transform="translate(978.80,961.50) scale(1.0306,1)" fill="#d31a10" ><tspan x="-1.97" y="0.00" font-size="24">LE</tspan><tspan x="27.39" y="7.90" font-size="16.5">max.</tspan><tspan x="63.14" y="0.00" font-size="24"> = ~41 lm W</tspan><tspan x="192.52" y="-12.50" font-size="16">−1</tspan></text>
<text transform="translate(785.20,1100.50) scale(0.9888,1)" fill="#000" ><tspan x="-2.72" y="0.00" font-size="29.5">Incident power density (W mm</tspan><tspan x="394.02" y="-12.10" font-size="19.5">−2</tspan><tspan x="416.25" y="0.00" font-size="29.5">)</tspan></text>
<text transform="translate(639.00,923.50) rotate(-90) scale(1.0015,1)" fill="#000" ><tspan x="-2.42" y="0.00" font-size="29.5">Luminous flux (lm)</tspan></text>
<text transform="translate(1349.40,988.30) rotate(-90) scale(0.9979,1)" fill="#000" ><tspan x="-2.42" y="0.00" font-size="29.5">Luminous efficiency (lm W</tspan><tspan x="341.84" y="-12.10" font-size="19.5">−1</tspan><tspan x="364.08" y="0.00" font-size="29.5">)</tspan></text>
</svg></body></html>
